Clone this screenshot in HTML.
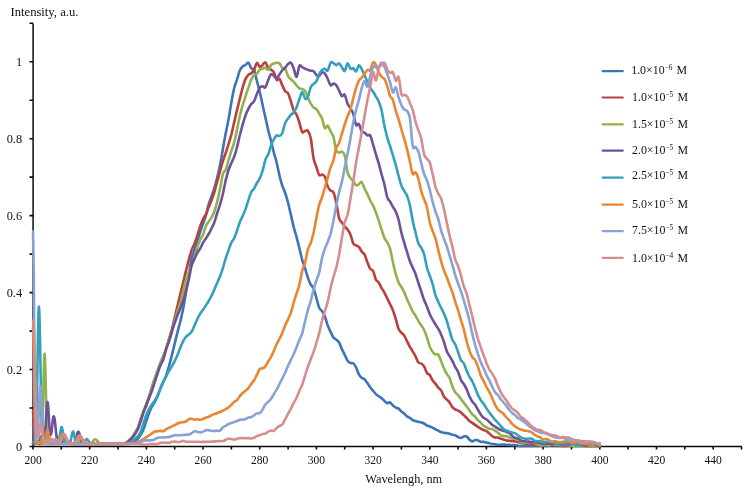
<!DOCTYPE html>
<html lang="en"><head><meta charset="utf-8"><title>Normalized emission spectra</title>
<style>html,body{margin:0;padding:0;background:#fff}body{width:750px;height:490px;overflow:hidden}svg{display:block}</style></head>
<body>
<svg width="750" height="490" viewBox="0 0 750 490">
<rect width="750" height="490" fill="#fff"/>
<g stroke="#0a0a0a" stroke-width="1.5" fill="none">
<path d="M33.1 23.6V447.2"/>
<path d="M32.4 446.5H741.8"/>
</g>
<g stroke="#0a0a0a" stroke-width="1.6" fill="none">
<path d="M29.5 446.5H33.1M29.5 408.0H33.1M29.5 369.5H33.1M29.5 331.1H33.1M29.5 292.6H33.1M29.5 254.1H33.1M29.5 215.6H33.1M29.5 177.1H33.1M29.5 138.7H33.1M29.5 100.2H33.1M29.5 61.7H33.1M29.5 23.2H33.1M33.0 446.5V449.4M61.3 446.5V449.4M89.7 446.5V449.4M118.0 446.5V449.4M146.4 446.5V449.4M174.7 446.5V449.4M203.0 446.5V449.4M231.4 446.5V449.4M259.7 446.5V449.4M288.1 446.5V449.4M316.4 446.5V449.4M344.7 446.5V449.4M373.1 446.5V449.4M401.4 446.5V449.4M429.8 446.5V449.4M458.1 446.5V449.4M486.4 446.5V449.4M514.8 446.5V449.4M543.1 446.5V449.4M571.5 446.5V449.4M599.8 446.5V449.4M628.1 446.5V449.4M656.5 446.5V449.4M684.8 446.5V449.4M713.2 446.5V449.4M741.5 446.5V449.4"/>
</g>
<g fill="none" stroke-width="2.6" stroke-linejoin="round" stroke-linecap="round">
<path stroke="#3d74b8" d="M33.0 423.7C33.1 424.7 33.5 427.3 33.7 429.7C33.9 432.2 34.2 436.2 34.4 438.4C34.7 440.6 34.9 442.2 35.1 442.9C35.4 443.6 35.6 442.7 35.8 442.6C36.1 442.6 36.3 442.5 36.5 442.5C36.8 442.5 37.0 442.6 37.3 442.6C37.5 442.5 37.7 442.2 38.0 442.2C38.2 442.3 38.4 442.6 38.7 442.8C38.9 442.9 39.1 442.9 39.4 443.1C39.6 443.3 39.8 443.9 40.1 443.9C40.3 444.0 40.6 443.7 40.8 443.6C41.0 443.5 41.3 443.3 41.5 443.2C41.7 443.1 42.0 443.0 42.2 442.9C42.4 442.8 42.7 442.5 42.9 442.6C43.2 442.7 43.4 443.5 43.6 443.7C43.9 443.9 44.1 443.7 44.3 443.7C44.6 443.7 44.8 443.4 45.0 443.5C45.3 443.5 45.5 443.9 45.8 444.0C46.0 444.0 46.2 443.8 46.5 443.8C46.7 443.7 46.9 443.8 47.2 443.8C47.4 443.9 47.6 443.9 47.9 443.9C48.1 443.9 48.4 443.9 48.6 443.9C48.8 443.9 49.1 444.0 49.3 444.0C49.5 444.0 49.8 444.0 50.0 443.9C50.2 443.9 50.5 443.9 50.7 443.8C50.9 443.7 51.2 443.6 51.4 443.4C51.7 443.3 51.9 442.9 52.1 442.9C52.4 442.9 52.6 443.3 52.8 443.5C53.1 443.6 53.3 443.9 53.5 443.9C53.8 443.9 54.0 443.7 54.3 443.6C54.5 443.5 54.7 443.4 55.0 443.3C55.2 443.2 55.4 443.0 55.7 443.0C55.9 443.1 56.1 443.5 56.4 443.7C56.6 443.8 56.9 444.0 57.1 444.0C57.3 444.0 57.6 443.8 57.8 443.7C58.0 443.7 58.3 443.7 58.5 443.6C58.7 443.6 59.0 443.4 59.2 443.4C59.5 443.5 59.7 443.9 59.9 443.9C60.2 444.0 60.4 443.7 60.6 443.6C60.9 443.5 61.1 443.4 61.3 443.4C61.6 443.3 61.8 443.3 62.0 443.3C62.3 443.3 62.5 443.4 62.8 443.5C63.0 443.5 63.2 443.5 63.5 443.6C63.7 443.6 63.9 443.8 64.2 443.8C64.4 443.8 64.6 443.5 64.9 443.5C65.1 443.4 65.4 443.3 65.6 443.4C65.8 443.4 66.1 443.5 66.3 443.6C66.5 443.7 66.8 443.9 67.0 443.9C67.2 443.9 67.5 443.5 67.7 443.4C68.0 443.3 68.2 443.2 68.4 443.2C68.7 443.2 68.9 443.3 69.1 443.3C69.4 443.3 69.6 443.4 69.8 443.5C70.1 443.5 70.3 443.6 70.6 443.7C70.8 443.8 71.0 443.9 71.3 443.9C71.5 443.9 71.7 443.9 72.0 443.9C72.2 443.9 72.4 443.9 72.7 443.9C72.9 443.9 73.1 443.9 73.4 443.9C73.6 443.9 73.9 443.8 74.1 443.8C74.3 443.9 74.6 444.0 74.8 444.0C75.0 444.0 75.3 443.9 75.5 443.9C75.7 443.9 76.0 443.9 76.2 443.9C76.5 443.9 76.7 443.9 76.9 443.9C77.2 443.9 77.4 443.8 77.6 443.8C77.9 443.9 78.1 443.9 78.3 443.9C78.6 443.9 78.8 443.9 79.1 443.9C79.3 443.9 79.5 443.9 79.8 443.9C80.0 443.9 80.2 443.8 80.5 443.8C80.7 443.8 80.9 443.9 81.2 443.9C81.4 443.9 81.7 443.9 81.9 444.0C82.1 444.0 82.4 444.0 82.6 444.0C82.8 444.0 83.1 443.9 83.3 443.9C83.5 443.9 83.8 443.9 84.0 443.9C84.2 443.9 84.5 443.9 84.7 443.9C85.0 443.9 85.2 443.9 85.4 443.8C85.7 443.8 85.9 443.7 86.1 443.7C86.4 443.7 86.6 443.7 86.8 443.7C87.1 443.7 87.3 443.6 87.6 443.6C87.8 443.6 88.0 443.7 88.3 443.7C88.5 443.8 88.7 443.8 89.0 443.9C89.2 443.9 89.4 443.9 89.7 444.0C89.9 444.0 90.2 443.9 90.4 443.9C90.6 443.9 90.9 443.9 91.1 443.9C91.3 443.9 91.6 443.9 91.8 443.9C92.0 443.9 92.3 443.8 92.5 443.8C92.8 443.8 93.0 443.8 93.2 443.8C93.5 443.9 93.7 443.9 93.9 443.9C94.2 443.9 94.4 443.9 94.6 443.9C94.9 443.9 95.1 444.0 95.3 444.0C95.6 444.0 95.8 444.0 96.1 444.0C96.3 444.0 96.5 444.0 96.8 444.0C97.0 444.0 97.2 443.9 97.5 443.8C97.7 443.8 97.9 443.8 98.2 443.8C98.4 443.8 98.7 443.8 98.9 443.8C99.1 443.8 99.4 443.9 99.6 443.9C99.8 443.9 100.1 443.9 100.3 443.9C100.5 443.9 100.8 444.0 101.0 444.0C101.3 444.0 101.5 444.0 101.7 444.0C102.0 444.0 102.2 443.9 102.4 443.9C102.7 443.9 102.9 443.9 103.1 443.9C103.4 443.9 103.6 443.9 103.9 443.9C104.1 443.9 104.3 443.9 104.6 443.9C104.8 443.9 105.0 444.0 105.3 444.0C105.5 444.0 105.7 444.0 106.0 444.0C106.2 444.0 106.4 443.9 106.7 443.9C106.9 443.9 107.2 444.0 107.4 444.0C107.6 444.0 107.9 443.9 108.1 443.9C108.3 443.9 108.6 444.0 108.8 444.0C109.0 444.0 109.3 444.0 109.5 444.0C109.8 444.0 110.0 444.0 110.2 444.0C110.5 444.0 110.7 444.0 110.9 444.0C111.2 444.0 111.4 443.9 111.6 443.9C111.9 443.9 112.1 443.9 112.4 443.9C112.6 443.9 112.8 443.9 113.1 443.9C113.3 444.0 113.5 444.0 113.8 444.0C114.0 444.0 114.2 444.0 114.5 444.0C114.7 444.0 114.9 443.9 115.2 443.9C115.4 443.9 115.7 443.9 115.9 443.9C116.1 443.9 116.4 443.9 116.6 443.9C116.8 443.9 117.1 443.9 117.3 443.9C117.5 443.9 117.8 444.0 118.0 444.0C118.3 444.0 118.5 444.0 118.7 444.0C119.0 444.0 119.2 444.0 119.4 444.0C119.7 444.0 119.9 444.0 120.1 444.0C120.4 444.0 120.3 444.0 120.9 444.0C121.4 444.0 122.7 444.0 123.7 444.0C124.6 444.0 125.6 444.0 126.5 444.0C127.5 444.0 128.4 444.1 129.4 444.0C130.3 443.8 131.2 443.5 132.2 443.0C133.1 442.6 134.1 442.1 135.0 441.3C136.0 440.6 136.9 439.8 137.9 438.7C138.8 437.6 139.7 436.5 140.7 434.9C141.6 433.3 142.6 431.5 143.5 429.2C144.5 426.8 145.4 423.5 146.4 420.8C147.3 418.1 148.2 415.1 149.2 412.7C150.1 410.3 151.1 408.2 152.0 406.4C153.0 404.6 153.9 403.7 154.9 401.9C155.8 400.1 156.8 398.0 157.7 395.7C158.6 393.5 159.6 390.7 160.5 388.4C161.5 386.1 162.4 384.0 163.4 381.9C164.3 379.8 165.3 378.2 166.2 375.5C167.1 372.9 168.1 369.5 169.0 366.1C170.0 362.7 170.9 358.9 171.9 355.1C172.8 351.4 173.8 347.4 174.7 343.6C175.6 339.7 176.6 335.8 177.5 332.1C178.5 328.3 179.4 325.1 180.4 321.2C181.3 317.3 182.3 313.4 183.2 308.6C184.1 303.8 185.1 298.1 186.0 292.3C187.0 286.6 187.9 279.5 188.9 273.9C189.8 268.2 190.8 262.3 191.7 258.4C192.6 254.4 193.6 252.9 194.5 249.9C195.5 247.0 196.4 243.7 197.4 240.7C198.3 237.7 199.3 234.8 200.2 232.0C201.2 229.2 202.1 226.5 203.0 223.7C204.0 220.9 204.9 218.7 205.9 215.5C206.8 212.2 207.8 207.2 208.7 204.1C209.7 200.9 210.6 199.2 211.5 196.5C212.5 193.9 213.4 191.2 214.4 188.0C215.3 184.9 216.3 181.4 217.2 177.6C218.2 173.8 219.1 170.1 220.0 165.3C221.0 160.6 221.9 154.4 222.9 149.1C223.8 143.7 224.8 138.2 225.7 133.3C226.7 128.4 227.6 124.7 228.5 119.5C229.5 114.4 230.4 107.6 231.4 102.4C232.3 97.1 233.3 91.8 234.2 88.0C235.2 84.2 236.1 82.5 237.0 79.5C238.0 76.6 238.9 72.4 239.9 70.2C240.8 68.0 241.8 67.3 242.7 66.5C243.7 65.6 244.6 65.6 245.6 65.0C246.5 64.3 247.4 62.0 248.4 62.6C249.3 63.1 250.3 67.1 251.2 68.3C252.2 69.6 253.1 67.9 254.1 70.0C255.0 72.2 255.9 77.4 256.9 81.0C257.8 84.6 258.8 87.5 259.7 91.5C260.7 95.5 261.6 100.6 262.6 104.9C263.5 109.3 264.4 113.3 265.4 117.5C266.3 121.7 267.3 126.3 268.2 130.2C269.2 134.1 270.1 137.1 271.1 140.9C272.0 144.7 272.9 149.2 273.9 152.8C274.8 156.5 275.8 158.9 276.7 162.8C277.7 166.6 278.6 172.1 279.6 176.0C280.5 179.9 281.4 183.1 282.4 186.0C283.3 188.8 284.3 190.1 285.2 193.0C286.2 195.8 287.1 199.4 288.1 203.0C289.0 206.7 289.9 210.7 290.9 214.8C291.8 218.8 292.8 223.4 293.7 227.1C294.7 230.9 295.6 233.7 296.6 237.2C297.5 240.7 298.5 244.5 299.4 248.3C300.3 252.1 301.3 256.7 302.2 260.0C303.2 263.4 304.1 265.5 305.1 268.4C306.0 271.4 307.0 274.9 307.9 277.6C308.8 280.3 309.8 282.9 310.7 284.7C311.7 286.4 312.6 286.0 313.6 288.2C314.5 290.4 315.5 294.7 316.4 298.0C317.3 301.3 318.3 305.6 319.2 307.8C320.2 310.0 321.1 309.7 322.1 311.1C323.0 312.6 324.0 314.1 324.9 316.5C325.8 318.9 326.8 323.0 327.7 325.5C328.7 328.1 329.6 329.8 330.6 331.8C331.5 333.8 332.5 336.1 333.4 337.4C334.3 338.7 335.3 338.8 336.2 339.6C337.2 340.5 338.1 340.9 339.1 342.5C340.0 344.1 341.0 347.1 341.9 349.2C342.9 351.2 343.8 352.9 344.7 354.8C345.7 356.7 346.6 359.3 347.6 360.7C348.5 362.0 349.5 362.6 350.4 363.0C351.4 363.5 352.3 362.5 353.2 363.3C354.2 364.0 355.1 365.7 356.1 367.5C357.0 369.4 358.0 372.7 358.9 374.4C359.9 376.1 360.8 377.0 361.7 377.8C362.7 378.6 363.6 378.4 364.6 379.3C365.5 380.2 366.5 381.8 367.4 383.1C368.4 384.5 369.3 386.0 370.2 387.3C371.2 388.6 372.1 389.7 373.1 390.8C374.0 391.9 375.0 393.2 375.9 394.1C376.9 395.0 377.8 395.5 378.7 396.2C379.7 396.9 380.6 397.4 381.6 398.2C382.5 399.0 383.5 400.0 384.4 400.9C385.4 401.7 386.3 402.9 387.2 403.1C388.2 403.4 389.1 402.1 390.1 402.4C391.0 402.8 392.0 404.6 392.9 405.5C393.9 406.3 394.8 407.1 395.8 407.7C396.7 408.2 397.6 408.0 398.6 408.6C399.5 409.3 400.5 410.7 401.4 411.6C402.4 412.4 403.3 412.8 404.3 413.6C405.2 414.4 406.1 415.7 407.1 416.4C408.0 417.1 409.0 417.3 409.9 417.9C410.9 418.5 411.8 419.6 412.8 420.1C413.7 420.7 414.6 420.8 415.6 421.1C416.5 421.4 417.5 421.7 418.4 421.9C419.4 422.1 420.3 422.1 421.3 422.4C422.2 422.7 423.1 423.0 424.1 423.5C425.0 424.0 426.0 425.0 426.9 425.5C427.9 426.0 428.8 426.1 429.8 426.5C430.7 426.8 431.6 427.2 432.6 427.7C433.5 428.1 434.5 428.8 435.4 429.3C436.4 429.8 437.3 430.1 438.3 430.6C439.2 431.1 440.2 431.8 441.1 432.1C442.0 432.5 443.0 432.5 443.9 432.7C444.9 432.9 445.8 433.0 446.8 433.1C447.7 433.3 448.7 433.4 449.6 433.7C450.5 434.0 451.5 434.6 452.4 434.8C453.4 435.1 454.3 434.9 455.3 435.2C456.2 435.6 457.2 436.6 458.1 437.0C459.0 437.5 460.0 438.1 460.9 438.0C461.9 437.9 462.8 436.7 463.8 436.5C464.7 436.2 465.7 436.0 466.6 436.5C467.5 437.0 468.5 438.7 469.4 439.5C470.4 440.4 471.3 441.3 472.3 441.4C473.2 441.5 474.2 440.3 475.1 440.1C476.0 439.9 477.0 440.0 477.9 440.3C478.9 440.6 479.8 441.5 480.8 441.8C481.7 442.1 482.7 441.8 483.6 441.9C484.6 442.0 485.5 442.2 486.4 442.4C487.4 442.6 488.3 442.9 489.3 443.2C490.2 443.5 491.2 443.9 492.1 444.0C493.1 444.2 494.0 444.1 494.9 444.2C495.9 444.3 496.8 444.6 497.8 444.7C498.7 444.8 499.7 444.7 500.6 444.7C501.6 444.7 502.5 444.5 503.4 444.5C504.4 444.6 505.3 444.7 506.3 444.8C507.2 444.9 508.2 444.8 509.1 444.9C510.1 445.0 511.0 445.3 511.9 445.3C512.9 445.3 513.8 445.0 514.8 445.0C515.7 445.0 516.7 445.2 517.6 445.4C518.6 445.6 519.5 445.9 520.4 446.0C521.4 446.1 522.3 446.0 523.3 446.0C524.2 446.0 525.2 446.0 526.1 446.0C527.1 446.0 528.0 446.0 529.0 446.0C529.9 446.0 530.8 445.9 531.8 445.9C532.7 445.9 533.7 446.0 534.6 446.0C535.6 446.0 536.5 446.0 537.5 446.0C538.4 446.0 539.3 446.0 540.3 446.0C541.2 446.0 542.2 445.7 543.1 445.7C544.1 445.7 545.0 446.0 546.0 446.0C546.9 446.0 547.8 445.9 548.8 445.8C549.7 445.7 550.7 445.4 551.6 445.3C552.6 445.2 553.5 445.3 554.5 445.4C555.4 445.5 556.3 445.9 557.3 446.0C558.2 446.1 559.2 446.0 560.1 446.0C561.1 446.0 562.0 446.0 563.0 445.9C563.9 445.9 564.8 445.9 565.8 445.7C566.7 445.6 567.7 445.0 568.6 445.1C569.6 445.1 570.5 445.8 571.5 446.0C572.4 446.2 573.3 446.0 574.3 446.0C575.2 446.0 576.2 446.0 577.1 446.0C578.1 446.0 579.0 445.9 580.0 445.9C580.9 445.9 581.9 446.0 582.8 446.0C583.7 446.0 584.7 446.0 585.6 446.0C586.6 446.0 587.5 446.0 588.5 446.0C589.4 446.0 590.4 446.0 591.3 446.0C592.2 446.0 593.2 446.0 594.1 446.0C595.1 446.0 596.0 446.0 597.0 446.0C597.9 446.0 599.3 446.0 599.8 446.0"/>
<path stroke="#b9403f" d="M33.0 411.5C33.1 413.1 33.5 417.1 33.7 421.0C33.9 425.0 34.2 432.0 34.4 435.4C34.7 438.8 34.9 440.3 35.1 441.7C35.4 443.1 35.6 443.5 35.8 443.8C36.1 444.2 36.3 443.9 36.5 443.8C36.8 443.8 37.0 443.9 37.3 443.7C37.5 443.5 37.7 443.1 38.0 442.8C38.2 442.5 38.4 442.1 38.7 441.7C38.9 441.4 39.1 441.3 39.4 440.8C39.6 440.4 39.8 439.9 40.1 439.2C40.3 438.5 40.6 437.2 40.8 436.6C41.0 436.1 41.3 436.0 41.5 436.0C41.7 436.0 42.0 436.1 42.2 436.6C42.4 437.1 42.7 438.3 42.9 439.1C43.2 439.8 43.4 440.4 43.6 441.1C43.9 441.7 44.1 442.6 44.3 443.0C44.6 443.3 44.8 443.0 45.0 443.1C45.3 443.3 45.5 443.7 45.8 443.8C46.0 443.9 46.2 443.6 46.5 443.6C46.7 443.6 46.9 443.8 47.2 443.8C47.4 443.8 47.6 443.8 47.9 443.7C48.1 443.7 48.4 443.5 48.6 443.5C48.8 443.4 49.1 443.2 49.3 443.2C49.5 443.2 49.8 443.2 50.0 443.3C50.2 443.3 50.5 443.4 50.7 443.5C50.9 443.5 51.2 443.8 51.4 443.8C51.7 443.7 51.9 443.3 52.1 443.2C52.4 443.1 52.6 443.1 52.8 443.2C53.1 443.3 53.3 443.6 53.5 443.7C53.8 443.7 54.0 443.6 54.3 443.6C54.5 443.5 54.7 443.6 55.0 443.5C55.2 443.4 55.4 443.0 55.7 442.9C55.9 442.9 56.1 443.2 56.4 443.3C56.6 443.4 56.9 443.5 57.1 443.6C57.3 443.7 57.6 443.8 57.8 443.8C58.0 443.9 58.3 443.9 58.5 443.9C58.7 443.8 59.0 443.5 59.2 443.5C59.5 443.5 59.7 443.7 59.9 443.7C60.2 443.7 60.4 443.8 60.6 443.7C60.9 443.7 61.1 443.6 61.3 443.6C61.6 443.6 61.8 443.6 62.0 443.7C62.3 443.7 62.5 443.7 62.8 443.8C63.0 443.8 63.2 443.8 63.5 443.8C63.7 443.9 63.9 443.9 64.2 443.9C64.4 443.9 64.6 444.0 64.9 443.9C65.1 443.9 65.4 443.8 65.6 443.7C65.8 443.6 66.1 443.6 66.3 443.6C66.5 443.6 66.8 443.8 67.0 443.8C67.2 443.8 67.5 443.6 67.7 443.6C68.0 443.5 68.2 443.5 68.4 443.5C68.7 443.5 68.9 443.6 69.1 443.6C69.4 443.6 69.6 443.4 69.8 443.4C70.1 443.4 70.3 443.5 70.6 443.5C70.8 443.5 71.0 443.4 71.3 443.4C71.5 443.4 71.7 443.3 72.0 443.4C72.2 443.4 72.4 443.5 72.7 443.6C72.9 443.7 73.1 443.7 73.4 443.7C73.6 443.8 73.9 443.9 74.1 443.9C74.3 443.9 74.6 443.9 74.8 443.8C75.0 443.8 75.3 443.6 75.5 443.6C75.7 443.6 76.0 443.7 76.2 443.7C76.5 443.8 76.7 443.8 76.9 443.8C77.2 443.9 77.4 443.8 77.6 443.8C77.9 443.8 78.1 443.9 78.3 443.9C78.6 443.9 78.8 443.9 79.1 443.9C79.3 443.9 79.5 443.9 79.8 443.9C80.0 443.9 80.2 443.9 80.5 443.8C80.7 443.8 80.9 443.9 81.2 443.9C81.4 443.9 81.7 443.9 81.9 443.9C82.1 443.9 82.4 443.7 82.6 443.7C82.8 443.7 83.1 443.7 83.3 443.7C83.5 443.7 83.8 443.7 84.0 443.7C84.2 443.8 84.5 443.9 84.7 443.9C85.0 443.9 85.2 443.9 85.4 443.9C85.7 443.9 85.9 444.0 86.1 444.0C86.4 444.0 86.6 443.9 86.8 443.9C87.1 443.9 87.3 443.9 87.6 443.9C87.8 443.9 88.0 444.0 88.3 444.0C88.5 444.0 88.7 443.9 89.0 443.9C89.2 443.9 89.4 443.9 89.7 443.9C89.9 443.9 90.2 443.9 90.4 443.9C90.6 443.9 90.9 443.9 91.1 443.9C91.3 443.9 91.6 444.0 91.8 444.0C92.0 444.0 92.3 443.8 92.5 443.8C92.8 443.8 93.0 443.9 93.2 443.9C93.5 443.9 93.7 443.9 93.9 443.9C94.2 443.9 94.4 443.9 94.6 443.9C94.9 443.9 95.1 443.9 95.3 444.0C95.6 444.0 95.8 444.0 96.1 444.0C96.3 444.0 96.5 443.9 96.8 443.9C97.0 443.9 97.2 444.0 97.5 444.0C97.7 444.0 97.9 444.0 98.2 444.0C98.4 444.0 98.7 444.0 98.9 444.0C99.1 444.0 99.4 443.9 99.6 443.9C99.8 443.9 100.1 443.9 100.3 443.9C100.5 443.9 100.8 443.9 101.0 443.9C101.3 443.8 101.5 443.9 101.7 443.9C102.0 443.9 102.2 443.9 102.4 443.9C102.7 443.9 102.9 443.9 103.1 444.0C103.4 444.0 103.6 443.9 103.9 443.9C104.1 443.9 104.3 443.9 104.6 443.9C104.8 444.0 105.0 444.0 105.3 444.0C105.5 444.0 105.7 443.9 106.0 443.9C106.2 443.9 106.4 443.9 106.7 443.9C106.9 443.9 107.2 443.9 107.4 443.9C107.6 443.9 107.9 444.0 108.1 444.0C108.3 444.0 108.6 444.0 108.8 444.0C109.0 444.0 109.3 444.0 109.5 444.0C109.8 444.0 110.0 444.0 110.2 444.0C110.5 444.0 110.7 444.0 110.9 444.0C111.2 444.0 111.4 444.0 111.6 444.0C111.9 443.9 112.1 443.9 112.4 443.9C112.6 443.9 112.8 443.9 113.1 443.8C113.3 443.8 113.5 443.9 113.8 443.9C114.0 443.9 114.2 443.9 114.5 443.9C114.7 443.9 114.9 444.0 115.2 444.0C115.4 444.0 115.7 444.0 115.9 444.0C116.1 444.0 116.4 443.9 116.6 443.9C116.8 443.9 117.1 443.9 117.3 444.0C117.5 444.0 117.8 443.9 118.0 443.9C118.3 443.9 118.5 443.9 118.7 443.9C119.0 443.9 119.2 444.0 119.4 444.0C119.7 444.0 119.9 444.0 120.1 444.0C120.4 444.0 120.3 444.0 120.9 444.0C121.4 444.0 122.7 444.2 123.7 443.9C124.6 443.7 125.6 443.1 126.5 442.5C127.5 441.8 128.4 440.9 129.4 440.0C130.3 439.2 131.2 438.5 132.2 437.4C133.1 436.3 134.1 434.9 135.0 433.4C136.0 431.9 136.9 430.5 137.9 428.3C138.8 426.0 139.7 422.7 140.7 419.9C141.6 417.1 142.6 414.2 143.5 411.5C144.5 408.8 145.4 406.4 146.4 403.9C147.3 401.4 148.2 399.2 149.2 396.5C150.1 393.7 151.1 390.4 152.0 387.4C153.0 384.4 153.9 381.3 154.9 378.6C155.8 375.9 156.8 373.4 157.7 371.1C158.6 368.8 159.6 367.0 160.5 364.7C161.5 362.4 162.4 359.8 163.4 357.2C164.3 354.5 165.3 351.9 166.2 348.9C167.1 345.9 168.1 342.4 169.0 339.2C170.0 335.9 170.9 333.1 171.9 329.5C172.8 325.9 173.8 321.5 174.7 317.5C175.6 313.6 176.6 309.7 177.5 305.8C178.5 301.8 179.4 297.7 180.4 293.7C181.3 289.8 182.3 286.1 183.2 282.2C184.1 278.4 185.1 274.5 186.0 270.6C187.0 266.8 187.9 262.9 188.9 259.4C189.8 256.0 190.8 252.5 191.7 249.9C192.6 247.2 193.6 246.0 194.5 243.6C195.5 241.2 196.4 238.3 197.4 235.4C198.3 232.4 199.3 228.8 200.2 226.1C201.2 223.4 202.1 221.1 203.0 219.2C204.0 217.2 204.9 216.3 205.9 214.3C206.8 212.3 207.8 209.3 208.7 207.0C209.7 204.7 210.6 202.9 211.5 200.4C212.5 197.9 213.4 195.1 214.4 192.0C215.3 189.0 216.3 185.3 217.2 181.8C218.2 178.4 219.1 174.6 220.0 171.2C221.0 167.7 221.9 164.2 222.9 161.1C223.8 158.1 224.8 155.8 225.7 153.0C226.7 150.2 227.6 147.2 228.5 144.1C229.5 141.0 230.4 138.1 231.4 134.4C232.3 130.7 233.3 126.1 234.2 122.1C235.2 118.0 236.1 114.1 237.0 110.1C238.0 106.2 238.9 102.2 239.9 98.4C240.8 94.6 241.8 90.5 242.7 87.3C243.7 84.0 244.6 81.0 245.6 78.9C246.5 76.9 247.4 75.9 248.4 74.9C249.3 74.0 250.3 74.0 251.2 73.2C252.2 72.4 253.1 71.7 254.1 70.0C255.0 68.3 255.9 63.5 256.9 63.0C257.8 62.5 258.8 66.7 259.7 67.0C260.7 67.3 261.6 65.7 262.6 64.9C263.5 64.1 264.4 61.8 265.4 62.3C266.3 62.8 267.3 66.6 268.2 67.8C269.2 69.0 270.1 68.9 271.1 69.7C272.0 70.4 272.9 70.7 273.9 72.4C274.8 74.1 275.8 78.9 276.7 80.0C277.7 81.1 278.6 77.9 279.6 78.8C280.5 79.7 281.4 83.5 282.4 85.6C283.3 87.6 284.3 89.9 285.2 91.2C286.2 92.5 287.1 91.7 288.1 93.4C289.0 95.1 289.9 98.4 290.9 101.3C291.8 104.2 292.8 108.5 293.7 110.7C294.7 113.0 295.6 112.8 296.6 114.8C297.5 116.8 298.5 119.8 299.4 122.7C300.3 125.6 301.3 130.7 302.2 132.1C303.2 133.5 304.1 131.1 305.1 130.9C306.0 130.7 307.0 129.7 307.9 130.9C308.8 132.1 309.8 133.5 310.7 138.1C311.7 142.7 312.6 153.7 313.6 158.5C314.5 163.3 315.5 164.2 316.4 167.0C317.3 169.7 318.3 173.7 319.2 175.0C320.2 176.3 321.1 174.4 322.1 174.6C323.0 174.9 324.0 174.8 324.9 176.7C325.8 178.7 326.8 184.1 327.7 186.4C328.7 188.8 329.6 189.7 330.6 190.7C331.5 191.6 332.5 190.3 333.4 192.3C334.3 194.2 335.3 198.2 336.2 202.5C337.2 206.9 338.1 214.8 339.1 218.2C340.0 221.5 341.0 221.2 341.9 222.6C342.9 224.0 343.8 225.4 344.7 226.6C345.7 227.7 346.6 228.3 347.6 229.6C348.5 230.9 349.5 232.2 350.4 234.5C351.4 236.8 352.3 241.5 353.2 243.3C354.2 245.1 355.1 244.7 356.1 245.3C357.0 246.0 358.0 246.0 358.9 247.0C359.9 248.0 360.8 250.3 361.7 251.6C362.7 252.9 363.6 252.9 364.6 254.7C365.5 256.5 366.5 260.0 367.4 262.3C368.4 264.6 369.3 267.2 370.2 268.7C371.2 270.1 372.1 269.1 373.1 271.0C374.0 272.8 375.0 277.7 375.9 279.6C376.9 281.5 377.8 281.0 378.7 282.5C379.7 283.9 380.6 286.4 381.6 288.1C382.5 289.8 383.5 290.9 384.4 292.6C385.4 294.3 386.3 296.4 387.2 298.3C388.2 300.3 389.1 302.4 390.1 304.3C391.0 306.3 392.0 307.7 392.9 310.2C393.9 312.6 394.8 315.9 395.8 319.0C396.7 322.1 397.6 326.6 398.6 328.9C399.5 331.2 400.5 331.5 401.4 332.7C402.4 333.8 403.3 334.3 404.3 335.7C405.2 337.2 406.1 339.6 407.1 341.4C408.0 343.3 409.0 345.2 409.9 346.9C410.9 348.6 411.8 350.0 412.8 351.6C413.7 353.2 414.6 354.7 415.6 356.5C416.5 358.3 417.5 361.4 418.4 362.5C419.4 363.7 420.3 362.8 421.3 363.5C422.2 364.1 423.1 365.0 424.1 366.5C425.0 368.1 426.0 371.4 426.9 372.9C427.9 374.3 428.8 373.8 429.8 375.1C430.7 376.4 431.6 379.0 432.6 380.4C433.5 381.9 434.5 382.5 435.4 383.7C436.4 384.9 437.3 386.5 438.3 387.6C439.2 388.8 440.2 388.9 441.1 390.4C442.0 391.8 443.0 394.9 443.9 396.5C444.9 398.0 445.8 398.5 446.8 399.5C447.7 400.5 448.7 401.1 449.6 402.4C450.5 403.7 451.5 406.0 452.4 407.1C453.4 408.3 454.3 408.8 455.3 409.4C456.2 410.0 457.2 410.2 458.1 410.7C459.0 411.2 460.0 411.7 460.9 412.4C461.9 413.2 462.8 414.3 463.8 415.2C464.7 416.1 465.7 417.0 466.6 417.9C467.5 418.9 468.5 420.1 469.4 421.0C470.4 421.8 471.3 422.3 472.3 422.9C473.2 423.6 474.2 424.2 475.1 424.8C476.0 425.5 477.0 426.3 477.9 426.9C478.9 427.5 479.8 428.1 480.8 428.6C481.7 429.1 482.7 429.5 483.6 430.0C484.6 430.4 485.5 430.6 486.4 431.1C487.4 431.7 488.3 432.7 489.3 433.5C490.2 434.3 491.2 435.3 492.1 436.0C493.1 436.6 494.0 437.2 494.9 437.5C495.9 437.8 496.8 437.4 497.8 437.6C498.7 437.8 499.7 438.3 500.6 438.6C501.6 438.9 502.5 439.1 503.4 439.4C504.4 439.7 505.3 440.2 506.3 440.4C507.2 440.6 508.2 440.6 509.1 440.7C510.1 440.9 511.0 441.0 511.9 441.1C512.9 441.3 513.8 441.3 514.8 441.4C515.7 441.6 516.7 441.7 517.6 442.0C518.6 442.2 519.5 442.5 520.4 442.8C521.4 443.0 522.3 443.3 523.3 443.5C524.2 443.7 525.2 443.8 526.1 443.8C527.1 443.8 528.0 443.4 529.0 443.5C529.9 443.6 530.8 444.2 531.8 444.3C532.7 444.5 533.7 444.4 534.6 444.6C535.6 444.8 536.5 445.5 537.5 445.6C538.4 445.7 539.3 445.3 540.3 445.3C541.2 445.3 542.2 445.5 543.1 445.4C544.1 445.2 545.0 444.7 546.0 444.6C546.9 444.6 547.8 445.0 548.8 445.0C549.7 445.1 550.7 444.8 551.6 444.8C552.6 444.8 553.5 444.8 554.5 444.9C555.4 445.0 556.3 445.2 557.3 445.3C558.2 445.4 559.2 445.3 560.1 445.4C561.1 445.5 562.0 445.7 563.0 445.8C563.9 445.9 564.8 446.0 565.8 446.0C566.7 446.0 567.7 446.1 568.6 446.0C569.6 445.9 570.5 445.7 571.5 445.5C572.4 445.3 573.3 444.9 574.3 444.8C575.2 444.7 576.2 445.0 577.1 445.0C578.1 445.1 579.0 445.2 580.0 445.2C580.9 445.1 581.9 444.6 582.8 444.8C583.7 444.9 584.7 445.7 585.6 445.9C586.6 446.1 587.5 445.9 588.5 445.9C589.4 445.9 590.4 446.0 591.3 446.0C592.2 446.0 593.2 446.0 594.1 446.0C595.1 446.0 596.0 446.0 597.0 446.0C597.9 446.0 599.3 446.0 599.8 446.0"/>
<path stroke="#8fb24c" d="M33.0 443.8C33.1 443.8 33.5 443.7 33.7 443.7C33.9 443.7 34.2 444.0 34.4 443.8C34.7 443.7 34.9 443.1 35.1 443.0C35.4 442.9 35.6 443.3 35.8 443.3C36.1 443.2 36.3 442.9 36.5 442.8C36.8 442.6 37.0 442.5 37.3 442.4C37.5 442.4 37.7 442.4 38.0 442.4C38.2 442.4 38.4 442.5 38.7 442.4C38.9 442.4 39.1 442.3 39.4 442.3C39.6 442.2 39.8 442.2 40.1 442.3C40.3 442.4 40.6 443.2 40.8 442.8C41.0 442.4 41.3 441.6 41.5 439.9C41.7 438.1 42.0 437.1 42.2 432.3C42.4 427.5 42.7 419.8 42.9 411.0C43.2 402.2 43.4 388.8 43.6 379.6C43.9 370.4 44.1 359.2 44.3 355.7C44.6 352.2 44.8 353.5 45.0 358.6C45.3 363.6 45.5 376.6 45.8 386.2C46.0 395.8 46.2 408.2 46.5 416.2C46.7 424.3 46.9 430.3 47.2 434.6C47.4 438.9 47.6 440.4 47.9 441.9C48.1 443.4 48.4 443.3 48.6 443.5C48.8 443.8 49.1 443.4 49.3 443.5C49.5 443.5 49.8 443.9 50.0 443.9C50.2 444.0 50.5 444.0 50.7 444.0C50.9 443.9 51.2 443.6 51.4 443.6C51.7 443.6 51.9 443.9 52.1 443.9C52.4 444.0 52.6 443.9 52.8 443.8C53.1 443.7 53.3 443.4 53.5 443.3C53.8 443.2 54.0 443.1 54.3 443.1C54.5 443.1 54.7 443.0 55.0 443.1C55.2 443.1 55.4 443.4 55.7 443.4C55.9 443.4 56.1 443.3 56.4 443.1C56.6 442.9 56.9 442.4 57.1 442.0C57.3 441.5 57.6 440.9 57.8 440.3C58.0 439.7 58.3 439.1 58.5 438.5C58.7 438.0 59.0 437.3 59.2 436.9C59.5 436.4 59.7 436.0 59.9 436.0C60.2 436.0 60.4 436.4 60.6 436.8C60.9 437.2 61.1 437.9 61.3 438.5C61.6 439.1 61.8 439.9 62.0 440.5C62.3 441.0 62.5 441.4 62.8 441.8C63.0 442.2 63.2 442.5 63.5 442.8C63.7 443.1 63.9 443.5 64.2 443.6C64.4 443.8 64.6 443.6 64.9 443.7C65.1 443.7 65.4 443.8 65.6 443.8C65.8 443.8 66.1 443.5 66.3 443.5C66.5 443.4 66.8 443.4 67.0 443.5C67.2 443.5 67.5 443.7 67.7 443.8C68.0 443.9 68.2 444.0 68.4 444.0C68.7 444.0 68.9 443.8 69.1 443.8C69.4 443.8 69.6 443.8 69.8 443.8C70.1 443.8 70.3 443.7 70.6 443.8C70.8 443.8 71.0 444.0 71.3 444.0C71.5 444.0 71.7 443.8 72.0 443.7C72.2 443.7 72.4 443.9 72.7 443.9C72.9 443.9 73.1 443.9 73.4 443.9C73.6 443.9 73.9 443.9 74.1 443.9C74.3 443.9 74.6 444.0 74.8 444.0C75.0 444.0 75.3 443.9 75.5 443.8C75.7 443.8 76.0 443.8 76.2 443.8C76.5 443.8 76.7 443.8 76.9 443.8C77.2 443.9 77.4 443.9 77.6 444.0C77.9 444.0 78.1 444.0 78.3 443.9C78.6 443.9 78.8 443.8 79.1 443.8C79.3 443.8 79.5 443.9 79.8 443.9C80.0 443.9 80.2 443.9 80.5 443.9C80.7 443.8 80.9 443.8 81.2 443.8C81.4 443.8 81.7 443.9 81.9 443.9C82.1 444.0 82.4 444.0 82.6 443.9C82.8 443.9 83.1 443.8 83.3 443.8C83.5 443.8 83.8 443.8 84.0 443.8C84.2 443.8 84.5 443.7 84.7 443.7C85.0 443.8 85.2 443.9 85.4 443.9C85.7 444.0 85.9 444.0 86.1 444.0C86.4 444.0 86.6 443.9 86.8 443.9C87.1 443.9 87.3 443.9 87.6 443.9C87.8 443.9 88.0 443.9 88.3 443.9C88.5 443.9 88.7 443.9 89.0 443.8C89.2 443.8 89.4 443.7 89.7 443.6C89.9 443.5 90.2 443.5 90.4 443.5C90.6 443.4 90.9 443.3 91.1 443.1C91.3 443.0 91.6 442.8 91.8 442.6C92.0 442.3 92.3 442.1 92.5 441.8C92.8 441.6 93.0 441.2 93.2 440.9C93.5 440.6 93.7 440.3 93.9 440.0C94.2 439.8 94.4 439.6 94.6 439.5C94.9 439.4 95.1 439.3 95.3 439.3C95.6 439.3 95.8 439.4 96.1 439.6C96.3 439.7 96.5 439.9 96.8 440.1C97.0 440.4 97.2 440.7 97.5 441.0C97.7 441.2 97.9 441.6 98.2 441.8C98.4 442.1 98.7 442.4 98.9 442.6C99.1 442.8 99.4 443.0 99.6 443.1C99.8 443.3 100.1 443.4 100.3 443.5C100.5 443.6 100.8 443.7 101.0 443.8C101.3 443.8 101.5 443.8 101.7 443.8C102.0 443.8 102.2 443.8 102.4 443.8C102.7 443.9 102.9 443.9 103.1 443.9C103.4 443.9 103.6 443.9 103.9 443.8C104.1 443.8 104.3 443.8 104.6 443.8C104.8 443.9 105.0 443.9 105.3 444.0C105.5 444.0 105.7 444.0 106.0 444.0C106.2 444.0 106.4 444.0 106.7 444.0C106.9 444.0 107.2 444.0 107.4 444.0C107.6 444.0 107.9 444.0 108.1 444.0C108.3 444.0 108.6 444.0 108.8 444.0C109.0 444.0 109.3 444.0 109.5 444.0C109.8 444.0 110.0 444.0 110.2 444.0C110.5 444.0 110.7 444.0 110.9 444.0C111.2 444.0 111.4 444.0 111.6 444.0C111.9 444.0 112.1 443.9 112.4 443.9C112.6 443.9 112.8 443.9 113.1 443.9C113.3 443.9 113.5 443.9 113.8 443.9C114.0 443.9 114.2 443.9 114.5 443.9C114.7 443.9 114.9 443.9 115.2 444.0C115.4 444.0 115.7 444.0 115.9 444.0C116.1 444.0 116.4 444.0 116.6 444.0C116.8 444.0 117.1 443.9 117.3 443.9C117.5 443.9 117.8 443.9 118.0 443.9C118.3 443.9 118.5 443.9 118.7 443.9C119.0 443.9 119.2 443.9 119.4 443.9C119.7 443.9 119.9 443.9 120.1 443.9C120.4 443.9 120.3 444.0 120.9 444.0C121.4 444.0 122.7 444.2 123.7 443.9C124.6 443.6 125.6 443.0 126.5 442.3C127.5 441.6 128.4 440.8 129.4 439.9C130.3 439.0 131.2 438.0 132.2 436.8C133.1 435.5 134.1 434.1 135.0 432.5C136.0 430.9 136.9 429.5 137.9 427.2C138.8 424.9 139.7 421.5 140.7 418.7C141.6 416.0 142.6 412.9 143.5 410.7C144.5 408.6 145.4 408.3 146.4 405.9C147.3 403.5 148.2 399.5 149.2 396.2C150.1 393.0 151.1 389.4 152.0 386.4C153.0 383.4 153.9 380.9 154.9 378.2C155.8 375.5 156.8 372.7 157.7 370.1C158.6 367.4 159.6 364.7 160.5 362.3C161.5 359.9 162.4 357.9 163.4 355.6C164.3 353.3 165.3 351.1 166.2 348.5C167.1 345.8 168.1 342.6 169.0 339.8C170.0 337.0 170.9 334.8 171.9 331.7C172.8 328.5 173.8 324.3 174.7 320.8C175.6 317.4 176.6 314.0 177.5 311.0C178.5 308.0 179.4 306.0 180.4 302.9C181.3 299.7 182.3 295.8 183.2 292.1C184.1 288.4 185.1 284.1 186.0 280.7C187.0 277.4 187.9 274.6 188.9 272.0C189.8 269.4 190.8 267.5 191.7 265.3C192.6 263.0 193.6 261.3 194.5 258.3C195.5 255.2 196.4 250.0 197.4 246.9C198.3 243.8 199.3 241.6 200.2 239.5C201.2 237.5 202.1 237.1 203.0 234.8C204.0 232.5 204.9 228.2 205.9 226.0C206.8 223.8 207.8 222.9 208.7 221.5C209.7 220.0 210.6 219.2 211.5 217.5C212.5 215.8 213.4 214.1 214.4 211.5C215.3 208.8 216.3 205.4 217.2 201.6C218.2 197.9 219.1 193.7 220.0 189.1C221.0 184.5 221.9 177.2 222.9 174.0C223.8 170.8 224.8 172.0 225.7 169.7C226.7 167.4 227.6 163.4 228.5 160.2C229.5 157.1 230.4 153.7 231.4 150.7C232.3 147.8 233.3 145.9 234.2 142.4C235.2 138.9 236.1 134.2 237.0 129.7C238.0 125.2 238.9 119.6 239.9 115.5C240.8 111.4 241.8 108.5 242.7 105.2C243.7 102.0 244.6 99.1 245.6 96.2C246.5 93.2 247.4 90.5 248.4 87.8C249.3 85.0 250.3 81.9 251.2 79.8C252.2 77.6 253.1 75.9 254.1 74.9C255.0 73.9 255.9 74.7 256.9 73.8C257.8 72.9 258.8 70.5 259.7 69.7C260.7 68.8 261.6 69.1 262.6 68.7C263.5 68.3 264.4 67.3 265.4 67.5C266.3 67.7 267.3 70.3 268.2 69.9C269.2 69.5 270.1 66.0 271.1 65.0C272.0 63.9 272.9 64.0 273.9 63.6C274.8 63.3 275.8 62.7 276.7 62.7C277.7 62.6 278.6 62.6 279.6 63.5C280.5 64.4 281.4 67.3 282.4 68.1C283.3 69.0 284.3 67.3 285.2 68.7C286.2 70.0 287.1 74.4 288.1 76.2C289.0 78.0 289.9 78.4 290.9 79.3C291.8 80.3 292.8 80.8 293.7 81.8C294.7 82.8 295.6 84.3 296.6 85.4C297.5 86.4 298.5 87.8 299.4 88.4C300.3 89.0 301.3 88.6 302.2 89.0C303.2 89.4 304.1 89.5 305.1 90.9C306.0 92.4 307.0 95.8 307.9 97.8C308.8 99.9 309.8 101.7 310.7 103.4C311.7 105.0 312.6 106.6 313.6 107.5C314.5 108.5 315.5 108.0 316.4 109.1C317.3 110.1 318.3 112.0 319.2 113.6C320.2 115.2 321.1 116.2 322.1 118.7C323.0 121.1 324.0 127.0 324.9 128.1C325.8 129.3 326.8 125.0 327.7 125.6C328.7 126.1 329.6 129.6 330.6 131.5C331.5 133.3 332.5 133.8 333.4 136.9C334.3 140.1 335.3 147.7 336.2 150.3C337.2 152.9 338.1 152.3 339.1 152.5C340.0 152.7 341.0 151.2 341.9 151.7C342.9 152.2 343.8 151.8 344.7 155.3C345.7 158.8 346.6 168.7 347.6 172.5C348.5 176.2 349.5 176.4 350.4 177.9C351.4 179.4 352.3 180.0 353.2 181.2C354.2 182.4 355.1 184.8 356.1 185.3C357.0 185.7 358.0 184.7 358.9 184.2C359.9 183.6 360.8 181.2 361.7 182.0C362.7 182.7 363.6 186.7 364.6 188.7C365.5 190.7 366.5 192.1 367.4 194.1C368.4 196.0 369.3 198.6 370.2 200.5C371.2 202.4 372.1 203.6 373.1 205.6C374.0 207.6 375.0 209.9 375.9 212.4C376.9 214.9 377.8 217.8 378.7 220.6C379.7 223.5 380.6 226.8 381.6 229.7C382.5 232.6 383.5 235.9 384.4 238.0C385.4 240.2 386.3 240.7 387.2 242.5C388.2 244.3 389.1 245.5 390.1 248.8C391.0 252.0 392.0 257.9 392.9 262.1C393.9 266.4 394.8 270.8 395.8 274.2C396.7 277.6 397.6 280.3 398.6 282.4C399.5 284.5 400.5 285.3 401.4 287.0C402.4 288.7 403.3 290.3 404.3 292.4C405.2 294.4 406.1 297.2 407.1 299.3C408.0 301.5 409.0 303.4 409.9 305.5C410.9 307.5 411.8 310.0 412.8 311.7C413.7 313.4 414.6 314.3 415.6 315.8C416.5 317.3 417.5 319.4 418.4 321.0C419.4 322.6 420.3 323.8 421.3 325.3C422.2 326.8 423.1 328.1 424.1 330.0C425.0 332.0 426.0 334.3 426.9 337.1C427.9 339.9 428.8 344.2 429.8 346.6C430.7 349.0 431.6 350.4 432.6 351.7C433.5 353.0 434.5 354.0 435.4 354.5C436.4 354.9 437.3 353.4 438.3 354.6C439.2 355.7 440.2 358.9 441.1 361.2C442.0 363.5 443.0 366.0 443.9 368.2C444.9 370.3 445.8 372.4 446.8 374.0C447.7 375.7 448.7 375.9 449.6 378.0C450.5 380.1 451.5 384.2 452.4 386.6C453.4 389.0 454.3 391.0 455.3 392.4C456.2 393.8 457.2 394.0 458.1 395.1C459.0 396.2 460.0 397.7 460.9 399.0C461.9 400.3 462.8 401.5 463.8 402.8C464.7 404.0 465.7 405.2 466.6 406.4C467.5 407.7 468.5 409.0 469.4 410.3C470.4 411.6 471.3 413.3 472.3 414.4C473.2 415.5 474.2 415.8 475.1 416.7C476.0 417.7 477.0 419.1 477.9 420.1C478.9 421.1 479.8 421.9 480.8 422.8C481.7 423.8 482.7 425.0 483.6 425.7C484.6 426.5 485.5 426.8 486.4 427.3C487.4 427.9 488.3 428.5 489.3 428.8C490.2 429.1 491.2 428.8 492.1 429.1C493.1 429.4 494.0 430.1 494.9 430.7C495.9 431.2 496.8 431.8 497.8 432.5C498.7 433.3 499.7 434.6 500.6 435.2C501.6 435.8 502.5 435.9 503.4 436.1C504.4 436.2 505.3 436.1 506.3 436.2C507.2 436.4 508.2 436.8 509.1 437.2C510.1 437.5 511.0 438.2 511.9 438.4C512.9 438.7 513.8 438.6 514.8 438.7C515.7 438.9 516.7 439.0 517.6 439.4C518.6 439.9 519.5 440.8 520.4 441.5C521.4 442.1 522.3 443.0 523.3 443.1C524.2 443.3 525.2 442.6 526.1 442.4C527.1 442.3 528.0 442.2 529.0 442.2C529.9 442.2 530.8 442.2 531.8 442.3C532.7 442.4 533.7 442.6 534.6 443.0C535.6 443.3 536.5 444.2 537.5 444.5C538.4 444.9 539.3 445.1 540.3 445.1C541.2 445.2 542.2 444.9 543.1 444.9C544.1 444.9 545.0 445.0 546.0 445.0C546.9 445.0 547.8 445.1 548.8 445.1C549.7 445.1 550.7 445.0 551.6 444.8C552.6 444.7 553.5 444.2 554.5 444.2C555.4 444.2 556.3 444.5 557.3 444.7C558.2 444.9 559.2 445.1 560.1 445.2C561.1 445.2 562.0 445.0 563.0 444.9C563.9 444.9 564.8 444.9 565.8 444.9C566.7 445.0 567.7 444.9 568.6 445.0C569.6 445.1 570.5 445.3 571.5 445.5C572.4 445.7 573.3 446.0 574.3 446.0C575.2 446.0 576.2 445.7 577.1 445.7C578.1 445.7 579.0 445.8 580.0 445.8C580.9 445.9 581.9 446.0 582.8 446.0C583.7 446.0 584.7 446.0 585.6 446.0C586.6 446.0 587.5 446.1 588.5 446.0C589.4 445.9 590.4 445.3 591.3 445.3C592.2 445.3 593.2 445.9 594.1 446.0C595.1 446.1 596.0 445.9 597.0 445.9C597.9 445.9 599.3 446.0 599.8 446.0"/>
<path stroke="#6f5199" d="M33.0 443.8C33.1 443.8 33.5 443.8 33.7 443.8C33.9 443.8 34.2 443.7 34.4 443.8C34.7 443.8 34.9 444.1 35.1 444.0C35.4 443.9 35.6 443.5 35.8 443.3C36.1 443.2 36.3 443.2 36.5 443.2C36.8 443.2 37.0 443.3 37.3 443.3C37.5 443.4 37.7 443.6 38.0 443.5C38.2 443.5 38.4 443.1 38.7 443.2C38.9 443.2 39.1 443.7 39.4 443.8C39.6 444.0 39.8 444.0 40.1 443.9C40.3 443.9 40.6 443.8 40.8 443.7C41.0 443.6 41.3 443.2 41.5 443.2C41.7 443.3 42.0 443.9 42.2 443.9C42.4 443.9 42.7 443.3 42.9 443.0C43.2 442.7 43.4 442.6 43.6 442.0C43.9 441.4 44.1 440.9 44.3 439.4C44.6 438.0 44.8 436.3 45.0 433.5C45.3 430.6 45.5 426.1 45.8 422.3C46.0 418.5 46.2 413.9 46.5 410.6C46.7 407.4 46.9 403.8 47.2 402.7C47.4 401.5 47.6 402.1 47.9 403.8C48.1 405.5 48.4 409.3 48.6 412.9C48.8 416.5 49.1 421.8 49.3 425.2C49.5 428.5 49.8 431.4 50.0 433.1C50.2 434.7 50.5 435.0 50.7 434.9C50.9 434.8 51.2 433.9 51.4 432.6C51.7 431.2 51.9 428.7 52.1 426.7C52.4 424.6 52.6 421.8 52.8 420.1C53.1 418.4 53.3 417.0 53.5 416.5C53.8 416.1 54.0 416.5 54.3 417.4C54.5 418.3 54.7 419.9 55.0 421.8C55.2 423.7 55.4 426.4 55.7 428.6C55.9 430.8 56.1 433.2 56.4 435.0C56.6 436.8 56.9 438.4 57.1 439.6C57.3 440.7 57.6 441.2 57.8 441.8C58.0 442.5 58.3 442.9 58.5 443.3C58.7 443.6 59.0 443.7 59.2 443.8C59.5 443.9 59.7 443.8 59.9 443.8C60.2 443.8 60.4 443.9 60.6 443.8C60.9 443.8 61.1 443.6 61.3 443.5C61.6 443.4 61.8 443.5 62.0 443.3C62.3 443.1 62.5 442.7 62.8 442.3C63.0 441.9 63.2 441.4 63.5 441.0C63.7 440.6 63.9 440.1 64.2 439.6C64.4 439.2 64.6 438.6 64.9 438.3C65.1 437.9 65.4 437.5 65.6 437.6C65.8 437.7 66.1 438.3 66.3 438.7C66.5 439.0 66.8 439.3 67.0 439.7C67.2 440.0 67.5 440.5 67.7 440.9C68.0 441.3 68.2 441.7 68.4 442.0C68.7 442.4 68.9 442.6 69.1 442.9C69.4 443.2 69.6 443.5 69.8 443.7C70.1 443.8 70.3 443.9 70.6 443.9C70.8 443.9 71.0 443.8 71.3 443.7C71.5 443.7 71.7 443.6 72.0 443.7C72.2 443.7 72.4 443.9 72.7 443.9C72.9 443.9 73.1 443.7 73.4 443.6C73.6 443.5 73.9 443.5 74.1 443.3C74.3 443.1 74.6 442.8 74.8 442.3C75.0 441.9 75.3 441.4 75.5 440.7C75.7 440.0 76.0 438.9 76.2 438.0C76.5 437.1 76.7 436.0 76.9 435.1C77.2 434.2 77.4 433.2 77.6 432.6C77.9 432.0 78.1 431.6 78.3 431.6C78.6 431.6 78.8 432.0 79.1 432.6C79.3 433.2 79.5 434.3 79.8 435.3C80.0 436.2 80.2 437.3 80.5 438.2C80.7 439.1 80.9 440.1 81.2 440.7C81.4 441.4 81.7 441.9 81.9 442.3C82.1 442.8 82.4 443.0 82.6 443.2C82.8 443.4 83.1 443.5 83.3 443.6C83.5 443.7 83.8 443.9 84.0 443.9C84.2 444.0 84.5 443.9 84.7 443.9C85.0 443.9 85.2 444.0 85.4 444.0C85.7 444.0 85.9 443.9 86.1 443.9C86.4 443.9 86.6 444.0 86.8 443.9C87.1 443.9 87.3 443.8 87.6 443.7C87.8 443.7 88.0 443.8 88.3 443.8C88.5 443.8 88.7 443.7 89.0 443.7C89.2 443.7 89.4 443.8 89.7 443.9C89.9 443.9 90.2 443.9 90.4 443.9C90.6 443.9 90.9 443.9 91.1 443.9C91.3 443.9 91.6 443.8 91.8 443.8C92.0 443.8 92.3 443.7 92.5 443.7C92.8 443.7 93.0 443.8 93.2 443.9C93.5 443.9 93.7 443.9 93.9 443.9C94.2 443.9 94.4 444.0 94.6 444.0C94.9 444.0 95.1 444.0 95.3 444.0C95.6 444.0 95.8 444.0 96.1 444.0C96.3 443.9 96.5 443.9 96.8 443.9C97.0 443.8 97.2 443.9 97.5 443.9C97.7 443.9 97.9 443.9 98.2 443.9C98.4 443.9 98.7 444.0 98.9 444.0C99.1 444.0 99.4 444.0 99.6 444.0C99.8 443.9 100.1 443.9 100.3 443.9C100.5 443.9 100.8 444.0 101.0 444.0C101.3 444.0 101.5 443.9 101.7 443.9C102.0 443.9 102.2 443.9 102.4 443.9C102.7 443.9 102.9 443.9 103.1 443.9C103.4 443.9 103.6 443.9 103.9 444.0C104.1 444.0 104.3 444.0 104.6 444.0C104.8 444.0 105.0 443.9 105.3 443.9C105.5 443.9 105.7 444.0 106.0 444.0C106.2 444.0 106.4 444.0 106.7 444.0C106.9 444.0 107.2 444.0 107.4 444.0C107.6 444.0 107.9 444.0 108.1 444.0C108.3 444.0 108.6 444.0 108.8 444.0C109.0 444.0 109.3 444.0 109.5 444.0C109.8 444.0 110.0 444.0 110.2 444.0C110.5 444.0 110.7 444.0 110.9 444.0C111.2 444.0 111.4 443.9 111.6 443.9C111.9 443.9 112.1 443.9 112.4 443.9C112.6 443.9 112.8 443.9 113.1 443.9C113.3 443.9 113.5 443.9 113.8 443.9C114.0 443.9 114.2 444.0 114.5 444.0C114.7 444.0 114.9 444.0 115.2 444.0C115.4 444.0 115.7 444.0 115.9 443.9C116.1 443.9 116.4 443.9 116.6 443.9C116.8 443.9 117.1 443.9 117.3 443.9C117.5 444.0 117.8 444.0 118.0 444.0C118.3 444.0 118.5 444.0 118.7 444.0C119.0 444.0 119.2 444.0 119.4 444.0C119.7 444.0 119.9 444.0 120.1 444.0C120.4 444.0 120.3 444.0 120.9 444.0C121.4 444.0 122.7 444.1 123.7 443.9C124.6 443.7 125.6 443.3 126.5 442.8C127.5 442.2 128.4 441.5 129.4 440.6C130.3 439.8 131.2 439.0 132.2 437.9C133.1 436.8 134.1 435.5 135.0 434.1C136.0 432.6 136.9 431.2 137.9 429.1C138.8 427.0 139.7 424.1 140.7 421.3C141.6 418.5 142.6 415.1 143.5 412.4C144.5 409.7 145.4 407.4 146.4 405.0C147.3 402.5 148.2 400.2 149.2 397.8C150.1 395.4 151.1 393.2 152.0 390.5C153.0 387.8 153.9 384.6 154.9 381.7C155.8 378.7 156.8 375.8 157.7 373.0C158.6 370.2 159.6 367.1 160.5 364.8C161.5 362.6 162.4 362.0 163.4 359.3C164.3 356.6 165.3 351.7 166.2 348.7C167.1 345.7 168.1 344.1 169.0 341.3C170.0 338.4 170.9 334.6 171.9 331.5C172.8 328.4 173.8 325.5 174.7 322.8C175.6 320.1 176.6 317.8 177.5 315.4C178.5 312.9 179.4 310.6 180.4 308.2C181.3 305.7 182.3 303.6 183.2 300.7C184.1 297.8 185.1 294.3 186.0 290.7C187.0 287.1 187.9 283.4 188.9 279.1C189.8 274.8 190.8 268.4 191.7 265.0C192.6 261.5 193.6 260.6 194.5 258.6C195.5 256.5 196.4 254.3 197.4 252.7C198.3 251.0 199.3 250.2 200.2 248.5C201.2 246.8 202.1 244.4 203.0 242.7C204.0 241.0 204.9 239.8 205.9 238.4C206.8 236.9 207.8 235.6 208.7 234.0C209.7 232.3 210.6 230.5 211.5 228.5C212.5 226.6 213.4 224.9 214.4 222.3C215.3 219.7 216.3 215.9 217.2 213.0C218.2 210.1 219.1 207.9 220.0 204.7C221.0 201.5 221.9 197.9 222.9 193.8C223.8 189.7 224.8 184.2 225.7 180.2C226.7 176.3 227.6 172.9 228.5 170.0C229.5 167.1 230.4 165.2 231.4 163.0C232.3 160.8 233.3 159.4 234.2 156.7C235.2 154.1 236.1 150.8 237.0 147.2C238.0 143.5 238.9 138.7 239.9 135.0C240.8 131.2 241.8 127.8 242.7 124.5C243.7 121.3 244.6 117.9 245.6 115.3C246.5 112.7 247.4 110.8 248.4 108.9C249.3 107.1 250.3 105.4 251.2 104.1C252.2 102.8 253.1 102.9 254.1 101.2C255.0 99.5 255.9 96.3 256.9 94.0C257.8 91.7 258.8 89.0 259.7 87.7C260.7 86.4 261.6 86.4 262.6 86.3C263.5 86.2 264.4 88.4 265.4 87.3C266.3 86.2 267.3 82.1 268.2 79.9C269.2 77.7 270.1 74.7 271.1 74.1C272.0 73.4 272.9 75.4 273.9 76.0C274.8 76.7 275.8 78.2 276.7 77.9C277.7 77.6 278.6 75.5 279.6 74.2C280.5 72.9 281.4 71.3 282.4 70.2C283.3 69.1 284.3 68.5 285.2 67.5C286.2 66.5 287.1 64.9 288.1 64.1C289.0 63.3 289.9 62.0 290.9 62.7C291.8 63.4 292.8 66.0 293.7 68.4C294.7 70.7 295.6 77.3 296.6 76.9C297.5 76.5 298.5 67.6 299.4 65.9C300.3 64.3 301.3 66.6 302.2 67.1C303.2 67.5 304.1 68.3 305.1 68.7C306.0 69.2 307.0 69.4 307.9 69.8C308.8 70.1 309.8 70.5 310.7 70.7C311.7 70.9 312.6 70.5 313.6 71.2C314.5 71.9 315.5 74.2 316.4 75.0C317.3 75.8 318.3 76.4 319.2 76.0C320.2 75.6 321.1 72.8 322.1 72.4C323.0 72.0 324.0 72.5 324.9 73.6C325.8 74.6 326.8 76.8 327.7 78.7C328.7 80.7 329.6 84.5 330.6 85.3C331.5 86.1 332.5 83.5 333.4 83.5C334.3 83.5 335.3 84.0 336.2 85.2C337.2 86.4 338.1 88.8 339.1 90.6C340.0 92.5 341.0 95.5 341.9 96.2C342.9 96.8 343.8 93.4 344.7 94.7C345.7 96.0 346.6 101.6 347.6 103.8C348.5 106.0 349.5 106.4 350.4 108.0C351.4 109.7 352.3 110.9 353.2 113.7C354.2 116.5 355.1 123.2 356.1 124.9C357.0 126.6 358.0 123.0 358.9 124.1C359.9 125.1 360.8 130.0 361.7 131.4C362.7 132.8 363.6 131.9 364.6 132.6C365.5 133.2 366.5 134.9 367.4 135.3C368.4 135.8 369.3 133.9 370.2 135.5C371.2 137.0 372.1 141.4 373.1 144.6C374.0 147.7 375.0 151.2 375.9 154.3C376.9 157.5 377.8 160.1 378.7 163.4C379.7 166.8 380.6 171.0 381.6 174.5C382.5 177.9 383.5 180.5 384.4 184.3C385.4 188.1 386.3 194.3 387.2 197.2C388.2 200.1 389.1 200.0 390.1 201.7C391.0 203.3 392.0 205.2 392.9 206.9C393.9 208.6 394.8 209.6 395.8 211.7C396.7 213.9 397.6 216.2 398.6 219.7C399.5 223.2 400.5 229.0 401.4 232.8C402.4 236.7 403.3 239.7 404.3 242.9C405.2 246.2 406.1 249.2 407.1 252.2C408.0 255.3 409.0 258.8 409.9 261.3C410.9 263.9 411.8 265.6 412.8 267.7C413.7 269.9 414.6 271.6 415.6 274.2C416.5 276.7 417.5 280.1 418.4 283.0C419.4 285.8 420.3 288.7 421.3 291.5C422.2 294.4 423.1 297.5 424.1 300.0C425.0 302.4 426.0 304.0 426.9 306.4C427.9 308.8 428.8 312.0 429.8 314.2C430.7 316.4 431.6 317.9 432.6 319.6C433.5 321.2 434.5 322.7 435.4 324.2C436.4 325.7 437.3 327.1 438.3 328.8C439.2 330.5 440.2 332.2 441.1 334.4C442.0 336.5 443.0 338.9 443.9 341.7C444.9 344.5 445.8 348.8 446.8 351.2C447.7 353.6 448.7 354.5 449.6 356.1C450.5 357.7 451.5 359.0 452.4 360.9C453.4 362.7 454.3 365.2 455.3 367.1C456.2 368.9 457.2 369.8 458.1 371.9C459.0 374.0 460.0 377.8 460.9 379.8C461.9 381.8 462.8 382.5 463.8 384.0C464.7 385.6 465.7 387.1 466.6 389.2C467.5 391.2 468.5 394.3 469.4 396.3C470.4 398.4 471.3 400.1 472.3 401.5C473.2 402.9 474.2 403.4 475.1 404.8C476.0 406.2 477.0 408.1 477.9 409.7C478.9 411.3 479.8 413.0 480.8 414.4C481.7 415.7 482.7 416.9 483.6 417.8C484.6 418.6 485.5 418.7 486.4 419.4C487.4 420.0 488.3 421.0 489.3 421.9C490.2 422.8 491.2 423.9 492.1 424.7C493.1 425.4 494.0 425.8 494.9 426.5C495.9 427.1 496.8 427.9 497.8 428.4C498.7 429.0 499.7 429.6 500.6 429.9C501.6 430.3 502.5 430.4 503.4 430.7C504.4 431.0 505.3 431.5 506.3 431.9C507.2 432.2 508.2 432.3 509.1 432.9C510.1 433.6 511.0 434.7 511.9 435.5C512.9 436.3 513.8 437.1 514.8 437.6C515.7 438.0 516.7 437.9 517.6 438.3C518.6 438.7 519.5 439.6 520.4 440.1C521.4 440.6 522.3 441.1 523.3 441.3C524.2 441.4 525.2 441.1 526.1 441.2C527.1 441.2 528.0 441.5 529.0 441.6C529.9 441.7 530.8 441.9 531.8 442.0C532.7 442.0 533.7 441.9 534.6 441.9C535.6 442.0 536.5 442.3 537.5 442.5C538.4 442.7 539.3 442.9 540.3 443.1C541.2 443.3 542.2 443.7 543.1 443.8C544.1 444.0 545.0 444.0 546.0 443.9C546.9 443.9 547.8 443.5 548.8 443.5C549.7 443.5 550.7 443.9 551.6 443.9C552.6 443.9 553.5 443.5 554.5 443.5C555.4 443.4 556.3 443.6 557.3 443.7C558.2 443.8 559.2 444.1 560.1 444.2C561.1 444.2 562.0 444.1 563.0 444.1C563.9 444.1 564.8 444.1 565.8 444.1C566.7 444.1 567.7 444.3 568.6 444.2C569.6 444.2 570.5 443.9 571.5 443.8C572.4 443.8 573.3 443.7 574.3 443.8C575.2 443.8 576.2 444.1 577.1 444.3C578.1 444.5 579.0 444.8 580.0 444.9C580.9 445.1 581.9 444.9 582.8 445.0C583.7 445.1 584.7 445.8 585.6 445.7C586.6 445.6 587.5 444.9 588.5 444.5C589.4 444.0 590.4 442.8 591.3 442.7C592.2 442.7 593.2 443.6 594.1 444.1C595.1 444.5 596.0 445.4 597.0 445.5C597.9 445.7 599.3 445.0 599.8 444.9"/>
<path stroke="#35a0bc" d="M33.0 442.5C33.1 442.5 33.5 442.5 33.7 442.4C33.9 442.3 34.2 442.5 34.4 441.9C34.7 441.3 34.9 440.6 35.1 438.7C35.4 436.8 35.6 435.3 35.8 430.7C36.1 426.1 36.3 420.2 36.5 411.1C36.8 402.0 37.0 388.8 37.3 376.2C37.5 363.6 37.7 346.8 38.0 335.5C38.2 324.2 38.4 312.3 38.7 308.5C38.9 304.8 39.1 306.8 39.4 312.8C39.6 318.7 39.8 332.0 40.1 344.1C40.3 356.2 40.6 373.2 40.8 385.2C41.0 397.3 41.3 408.5 41.5 416.5C41.7 424.6 42.0 429.4 42.2 433.5C42.4 437.5 42.7 439.4 42.9 440.8C43.2 442.3 43.4 442.0 43.6 442.3C43.9 442.5 44.1 442.2 44.3 442.2C44.6 442.2 44.8 442.4 45.0 442.4C45.3 442.4 45.5 442.1 45.8 442.1C46.0 442.1 46.2 442.1 46.5 442.3C46.7 442.4 46.9 442.7 47.2 442.9C47.4 443.1 47.6 443.4 47.9 443.5C48.1 443.5 48.4 443.3 48.6 443.3C48.8 443.4 49.1 443.7 49.3 443.8C49.5 443.9 49.8 443.7 50.0 443.7C50.2 443.8 50.5 443.9 50.7 443.9C50.9 444.0 51.2 444.0 51.4 444.0C51.7 443.9 51.9 443.7 52.1 443.7C52.4 443.7 52.6 443.9 52.8 444.0C53.1 444.0 53.3 444.0 53.5 444.0C53.8 444.0 54.0 443.9 54.3 443.9C54.5 443.9 54.7 443.9 55.0 443.9C55.2 443.9 55.4 444.0 55.7 443.9C55.9 443.9 56.1 443.8 56.4 443.7C56.6 443.7 56.9 443.6 57.1 443.6C57.3 443.5 57.6 443.6 57.8 443.4C58.0 443.2 58.3 442.9 58.5 442.3C58.7 441.8 59.0 441.0 59.2 439.9C59.5 438.8 59.7 437.2 59.9 435.7C60.2 434.2 60.4 432.1 60.6 430.7C60.9 429.3 61.1 427.8 61.3 427.3C61.6 426.8 61.8 427.0 62.0 427.7C62.3 428.4 62.5 430.0 62.8 431.5C63.0 433.0 63.2 435.2 63.5 436.7C63.7 438.2 63.9 439.5 64.2 440.5C64.4 441.5 64.6 442.2 64.9 442.7C65.1 443.2 65.4 443.5 65.6 443.6C65.8 443.8 66.1 443.6 66.3 443.6C66.5 443.6 66.8 443.7 67.0 443.6C67.2 443.6 67.5 443.5 67.7 443.5C68.0 443.5 68.2 443.4 68.4 443.4C68.7 443.4 68.9 443.3 69.1 443.2C69.4 443.1 69.6 443.2 69.8 442.8C70.1 442.5 70.3 441.9 70.6 441.0C70.8 440.2 71.0 439.0 71.3 437.8C71.5 436.7 71.7 435.1 72.0 434.1C72.2 433.1 72.4 432.1 72.7 431.7C72.9 431.4 73.1 431.5 73.4 432.0C73.6 432.5 73.9 433.9 74.1 434.9C74.3 436.0 74.6 437.3 74.8 438.3C75.0 439.4 75.3 440.5 75.5 441.2C75.7 442.0 76.0 442.5 76.2 442.9C76.5 443.3 76.7 443.4 76.9 443.5C77.2 443.7 77.4 443.8 77.6 443.8C77.9 443.9 78.1 444.0 78.3 444.0C78.6 444.0 78.8 444.0 79.1 444.0C79.3 444.0 79.5 444.0 79.8 444.0C80.0 444.0 80.2 444.0 80.5 444.0C80.7 444.0 80.9 444.0 81.2 443.9C81.4 443.9 81.7 443.8 81.9 443.7C82.1 443.7 82.4 443.7 82.6 443.6C82.8 443.5 83.1 443.4 83.3 443.2C83.5 443.0 83.8 442.7 84.0 442.4C84.2 442.1 84.5 441.8 84.7 441.5C85.0 441.2 85.2 440.8 85.4 440.5C85.7 440.1 85.9 439.7 86.1 439.4C86.4 439.2 86.6 439.1 86.8 439.1C87.1 439.2 87.3 439.4 87.6 439.6C87.8 439.9 88.0 440.3 88.3 440.7C88.5 441.1 88.7 441.5 89.0 441.9C89.2 442.2 89.4 442.5 89.7 442.7C89.9 443.0 90.2 443.2 90.4 443.4C90.6 443.5 90.9 443.5 91.1 443.6C91.3 443.6 91.6 443.7 91.8 443.7C92.0 443.8 92.3 443.8 92.5 443.8C92.8 443.9 93.0 444.0 93.2 444.0C93.5 444.0 93.7 444.0 93.9 444.0C94.2 444.0 94.4 443.9 94.6 443.9C94.9 443.8 95.1 443.9 95.3 443.9C95.6 443.9 95.8 444.0 96.1 444.0C96.3 444.0 96.5 443.9 96.8 443.9C97.0 443.9 97.2 443.8 97.5 443.8C97.7 443.7 97.9 443.7 98.2 443.7C98.4 443.7 98.7 443.8 98.9 443.8C99.1 443.8 99.4 443.8 99.6 443.8C99.8 443.8 100.1 443.8 100.3 443.8C100.5 443.9 100.8 444.0 101.0 444.0C101.3 444.0 101.5 443.9 101.7 443.9C102.0 443.8 102.2 443.8 102.4 443.8C102.7 443.8 102.9 443.8 103.1 443.8C103.4 443.8 103.6 443.9 103.9 443.9C104.1 443.9 104.3 443.9 104.6 443.9C104.8 444.0 105.0 444.0 105.3 444.0C105.5 444.0 105.7 444.0 106.0 444.0C106.2 444.0 106.4 444.0 106.7 444.0C106.9 444.0 107.2 444.0 107.4 444.0C107.6 444.0 107.9 444.0 108.1 444.0C108.3 444.0 108.6 444.0 108.8 444.0C109.0 444.0 109.3 444.0 109.5 444.0C109.8 444.0 110.0 444.0 110.2 444.0C110.5 444.0 110.7 443.9 110.9 443.9C111.2 443.9 111.4 444.0 111.6 443.9C111.9 443.9 112.1 443.9 112.4 443.9C112.6 443.9 112.8 443.9 113.1 443.9C113.3 443.9 113.5 444.0 113.8 444.0C114.0 444.0 114.2 444.0 114.5 444.0C114.7 444.0 114.9 444.0 115.2 444.0C115.4 444.0 115.7 444.0 115.9 443.9C116.1 443.9 116.4 443.9 116.6 443.9C116.8 443.9 117.1 444.0 117.3 444.0C117.5 444.0 117.8 443.9 118.0 443.9C118.3 443.9 118.5 443.9 118.7 443.9C119.0 443.9 119.2 443.9 119.4 443.9C119.7 443.9 119.9 443.9 120.1 443.9C120.4 443.9 120.3 444.0 120.9 444.0C121.4 444.0 122.7 444.0 123.7 444.0C124.6 443.9 125.6 443.9 126.5 443.7C127.5 443.6 128.4 443.5 129.4 443.0C130.3 442.6 131.2 441.8 132.2 441.1C133.1 440.4 134.1 439.8 135.0 438.9C136.0 438.1 136.9 437.2 137.9 436.0C138.8 434.9 139.7 434.0 140.7 431.9C141.6 429.8 142.6 426.2 143.5 423.3C144.5 420.4 145.4 416.8 146.4 414.4C147.3 412.0 148.2 410.5 149.2 408.8C150.1 407.1 151.1 405.7 152.0 404.3C153.0 402.9 153.9 401.9 154.9 400.4C155.8 398.9 156.8 397.2 157.7 395.2C158.6 393.1 159.6 390.4 160.5 388.1C161.5 385.9 162.4 383.5 163.4 381.6C164.3 379.7 165.3 378.2 166.2 376.5C167.1 374.7 168.1 372.7 169.0 371.0C170.0 369.3 170.9 367.9 171.9 366.3C172.8 364.7 173.8 363.0 174.7 361.1C175.6 359.2 176.6 357.1 177.5 354.9C178.5 352.6 179.4 349.8 180.4 347.5C181.3 345.2 182.3 342.9 183.2 341.1C184.1 339.3 185.1 337.9 186.0 336.8C187.0 335.7 187.9 335.3 188.9 334.4C189.8 333.6 190.8 333.2 191.7 331.7C192.6 330.2 193.6 327.6 194.5 325.5C195.5 323.4 196.4 321.0 197.4 319.0C198.3 317.1 199.3 315.3 200.2 313.7C201.2 312.2 202.1 311.2 203.0 309.8C204.0 308.5 204.9 307.0 205.9 305.5C206.8 304.0 207.8 302.6 208.7 301.0C209.7 299.3 210.6 297.6 211.5 295.7C212.5 293.8 213.4 291.6 214.4 289.5C215.3 287.3 216.3 284.8 217.2 282.7C218.2 280.5 219.1 278.9 220.0 276.5C221.0 274.1 221.9 271.1 222.9 268.1C223.8 265.1 224.8 261.4 225.7 258.4C226.7 255.5 227.6 253.1 228.5 250.4C229.5 247.8 230.4 244.5 231.4 242.5C232.3 240.4 233.3 240.2 234.2 238.2C235.2 236.2 236.1 233.2 237.0 230.5C238.0 227.7 238.9 224.3 239.9 221.9C240.8 219.5 241.8 218.1 242.7 215.9C243.7 213.7 244.6 211.5 245.6 208.9C246.5 206.2 247.4 202.9 248.4 200.1C249.3 197.3 250.3 194.1 251.2 192.2C252.2 190.3 253.1 190.1 254.1 188.6C255.0 187.1 255.9 184.7 256.9 183.0C257.8 181.3 258.8 180.5 259.7 178.4C260.7 176.4 261.6 174.0 262.6 170.8C263.5 167.7 264.4 162.4 265.4 159.7C266.3 156.9 267.3 156.8 268.2 154.4C269.2 152.0 270.1 147.9 271.1 145.4C272.0 142.9 272.9 141.0 273.9 139.4C274.8 137.7 275.8 136.0 276.7 135.4C277.7 134.8 278.6 136.3 279.6 135.9C280.5 135.5 281.4 135.1 282.4 133.0C283.3 130.8 284.3 125.3 285.2 122.9C286.2 120.5 287.1 119.8 288.1 118.5C289.0 117.1 289.9 115.8 290.9 114.8C291.8 113.8 292.8 113.7 293.7 112.4C294.7 111.2 295.6 109.5 296.6 107.3C297.5 105.0 298.5 101.6 299.4 99.0C300.3 96.5 301.3 92.1 302.2 92.1C303.2 92.0 304.1 97.9 305.1 98.7C306.0 99.4 307.0 98.6 307.9 96.7C308.8 94.8 309.8 89.4 310.7 87.2C311.7 85.1 312.6 84.9 313.6 83.9C314.5 83.0 315.5 83.0 316.4 81.3C317.3 79.7 318.3 76.1 319.2 74.2C320.2 72.3 321.1 70.9 322.1 70.0C323.0 69.0 324.0 68.7 324.9 68.8C325.8 69.0 326.8 71.7 327.7 70.7C328.7 69.7 329.6 64.0 330.6 62.7C331.5 61.4 332.5 62.6 333.4 63.0C334.3 63.4 335.3 65.1 336.2 65.2C337.2 65.2 338.1 63.0 339.1 63.4C340.0 63.7 341.0 66.0 341.9 67.3C342.9 68.5 343.8 71.6 344.7 71.0C345.7 70.3 346.6 63.7 347.6 63.3C348.5 63.0 349.5 67.8 350.4 68.7C351.4 69.5 352.3 67.8 353.2 68.2C354.2 68.7 355.1 71.8 356.1 71.3C357.0 70.8 358.0 65.7 358.9 65.3C359.9 65.0 360.8 67.6 361.7 69.2C362.7 70.9 363.6 73.2 364.6 75.3C365.5 77.5 366.5 79.8 367.4 81.9C368.4 84.0 369.3 86.3 370.2 87.9C371.2 89.6 372.1 90.3 373.1 91.7C374.0 93.1 375.0 94.9 375.9 96.6C376.9 98.2 377.8 99.1 378.7 101.4C379.7 103.7 380.6 106.3 381.6 110.4C382.5 114.4 383.5 121.3 384.4 125.8C385.4 130.3 386.3 134.0 387.2 137.4C388.2 140.8 389.1 143.2 390.1 146.2C391.0 149.2 392.0 152.2 392.9 155.3C393.9 158.4 394.8 161.6 395.8 165.0C396.7 168.5 397.6 172.5 398.6 175.9C399.5 179.4 400.5 183.2 401.4 185.7C402.4 188.2 403.3 189.3 404.3 191.0C405.2 192.7 406.1 193.5 407.1 195.9C408.0 198.3 409.0 201.2 409.9 205.4C410.9 209.5 411.8 216.5 412.8 221.1C413.7 225.6 414.6 229.0 415.6 232.7C416.5 236.5 417.5 240.9 418.4 243.4C419.4 246.0 420.3 246.2 421.3 247.9C422.2 249.7 423.1 250.9 424.1 254.1C425.0 257.4 426.0 263.9 426.9 267.5C427.9 271.1 428.8 273.0 429.8 275.7C430.7 278.5 431.6 280.6 432.6 283.9C433.5 287.1 434.5 292.2 435.4 295.2C436.4 298.2 437.3 299.8 438.3 301.9C439.2 304.0 440.2 305.8 441.1 307.8C442.0 309.7 443.0 311.3 443.9 313.5C444.9 315.7 445.8 318.0 446.8 320.8C447.7 323.7 448.7 327.5 449.6 330.7C450.5 333.8 451.5 337.5 452.4 339.8C453.4 342.1 454.3 342.3 455.3 344.4C456.2 346.5 457.2 349.6 458.1 352.2C459.0 354.8 460.0 358.3 460.9 360.2C461.9 362.0 462.8 361.5 463.8 363.3C464.7 365.0 465.7 368.4 466.6 370.6C467.5 372.8 468.5 374.7 469.4 376.6C470.4 378.4 471.3 379.6 472.3 381.5C473.2 383.3 474.2 385.5 475.1 387.7C476.0 390.0 477.0 392.8 477.9 394.9C478.9 396.9 479.8 398.6 480.8 400.1C481.7 401.6 482.7 402.5 483.6 403.9C484.6 405.2 485.5 406.8 486.4 408.2C487.4 409.6 488.3 411.1 489.3 412.5C490.2 413.8 491.2 414.9 492.1 416.1C493.1 417.3 494.0 418.6 494.9 419.7C495.9 420.8 496.8 421.7 497.8 422.7C498.7 423.7 499.7 424.8 500.6 425.8C501.6 426.9 502.5 428.2 503.4 429.0C504.4 429.8 505.3 430.1 506.3 430.5C507.2 430.9 508.2 431.1 509.1 431.4C510.1 431.7 511.0 432.2 511.9 432.4C512.9 432.7 513.8 432.7 514.8 433.1C515.7 433.5 516.7 434.3 517.6 435.0C518.6 435.7 519.5 436.6 520.4 437.2C521.4 437.7 522.3 438.0 523.3 438.3C524.2 438.5 525.2 438.8 526.1 438.9C527.1 438.9 528.0 438.5 529.0 438.5C529.9 438.5 530.8 438.4 531.8 438.8C532.7 439.1 533.7 440.4 534.6 440.8C535.6 441.2 536.5 441.3 537.5 441.3C538.4 441.3 539.3 440.9 540.3 441.0C541.2 441.2 542.2 442.2 543.1 442.3C544.1 442.5 545.0 442.2 546.0 442.0C546.9 441.8 547.8 441.2 548.8 441.2C549.7 441.2 550.7 441.7 551.6 441.9C552.6 442.2 553.5 442.5 554.5 442.9C555.4 443.2 556.3 443.8 557.3 443.9C558.2 443.9 559.2 443.2 560.1 443.1C561.1 443.0 562.0 443.1 563.0 443.1C563.9 443.1 564.8 443.3 565.8 443.3C566.7 443.4 567.7 443.3 568.6 443.3C569.6 443.3 570.5 443.1 571.5 443.3C572.4 443.4 573.3 443.8 574.3 444.1C575.2 444.4 576.2 444.8 577.1 444.9C578.1 444.9 579.0 444.8 580.0 444.5C580.9 444.3 581.9 443.7 582.8 443.5C583.7 443.4 584.7 443.3 585.6 443.4C586.6 443.5 587.5 444.0 588.5 444.1C589.4 444.1 590.4 444.0 591.3 443.9C592.2 443.8 593.2 443.6 594.1 443.6C595.1 443.6 596.0 443.4 597.0 443.7C597.9 444.0 599.3 445.1 599.8 445.3"/>
<path stroke="#ea8530" d="M33.0 327.8C33.1 332.1 33.5 341.6 33.7 353.9C33.9 366.1 34.2 388.2 34.4 401.3C34.7 414.4 34.9 425.6 35.1 432.3C35.4 439.1 35.6 439.8 35.8 441.7C36.1 443.6 36.3 443.4 36.5 443.8C36.8 444.1 37.0 444.0 37.3 443.9C37.5 443.9 37.7 443.4 38.0 443.3C38.2 443.1 38.4 443.3 38.7 443.2C38.9 443.1 39.1 442.7 39.4 442.7C39.6 442.6 39.8 443.0 40.1 443.1C40.3 443.1 40.6 443.1 40.8 443.2C41.0 443.4 41.3 443.9 41.5 443.9C41.7 444.0 42.0 443.7 42.2 443.6C42.4 443.5 42.7 443.4 42.9 443.3C43.2 443.3 43.4 443.5 43.6 443.3C43.9 443.2 44.1 443.2 44.3 442.7C44.6 442.2 44.8 441.4 45.0 440.4C45.3 439.5 45.5 438.2 45.8 437.0C46.0 435.8 46.2 434.2 46.5 433.2C46.7 432.1 46.9 430.8 47.2 430.5C47.4 430.1 47.6 430.5 47.9 431.1C48.1 431.7 48.4 433.0 48.6 434.1C48.8 435.2 49.1 436.5 49.3 437.7C49.5 438.9 49.8 440.2 50.0 441.1C50.2 441.9 50.5 442.4 50.7 442.8C50.9 443.2 51.2 443.3 51.4 443.4C51.7 443.5 51.9 443.4 52.1 443.5C52.4 443.6 52.6 443.9 52.8 444.0C53.1 444.0 53.3 443.8 53.5 443.7C53.8 443.7 54.0 443.6 54.3 443.5C54.5 443.5 54.7 443.5 55.0 443.5C55.2 443.6 55.4 443.6 55.7 443.6C55.9 443.6 56.1 443.6 56.4 443.5C56.6 443.4 56.9 443.4 57.1 443.1C57.3 442.8 57.6 442.3 57.8 442.0C58.0 441.6 58.3 441.3 58.5 440.9C58.7 440.5 59.0 439.9 59.2 439.5C59.5 439.1 59.7 438.7 59.9 438.3C60.2 437.8 60.4 437.2 60.6 436.7C60.9 436.3 61.1 435.8 61.3 435.4C61.6 435.0 61.8 434.5 62.0 434.3C62.3 434.0 62.5 433.7 62.8 433.7C63.0 433.7 63.2 434.0 63.5 434.2C63.7 434.5 63.9 434.9 64.2 435.3C64.4 435.7 64.6 436.0 64.9 436.5C65.1 437.0 65.4 437.6 65.6 438.2C65.8 438.7 66.1 439.4 66.3 439.8C66.5 440.3 66.8 440.7 67.0 441.1C67.2 441.5 67.5 441.8 67.7 442.1C68.0 442.5 68.2 442.9 68.4 443.1C68.7 443.3 68.9 443.3 69.1 443.4C69.4 443.5 69.6 443.6 69.8 443.6C70.1 443.7 70.3 443.6 70.6 443.5C70.8 443.5 71.0 443.6 71.3 443.6C71.5 443.6 71.7 443.7 72.0 443.8C72.2 443.8 72.4 443.9 72.7 443.9C72.9 443.9 73.1 443.7 73.4 443.7C73.6 443.7 73.9 443.8 74.1 443.9C74.3 443.9 74.6 443.9 74.8 443.9C75.0 443.8 75.3 443.8 75.5 443.7C75.7 443.6 76.0 443.5 76.2 443.3C76.5 443.2 76.7 443.1 76.9 442.9C77.2 442.7 77.4 442.5 77.6 442.2C77.9 442.0 78.1 441.6 78.3 441.3C78.6 440.9 78.8 440.5 79.1 440.1C79.3 439.7 79.5 439.2 79.8 438.9C80.0 438.7 80.2 438.6 80.5 438.4C80.7 438.2 80.9 437.9 81.2 437.9C81.4 438.0 81.7 438.3 81.9 438.5C82.1 438.7 82.4 438.8 82.6 439.1C82.8 439.4 83.1 439.8 83.3 440.2C83.5 440.6 83.8 441.0 84.0 441.3C84.2 441.7 84.5 442.0 84.7 442.2C85.0 442.5 85.2 442.7 85.4 442.9C85.7 443.1 85.9 443.3 86.1 443.4C86.4 443.6 86.6 443.7 86.8 443.7C87.1 443.8 87.3 443.8 87.6 443.8C87.8 443.9 88.0 444.0 88.3 443.9C88.5 443.9 88.7 443.8 89.0 443.8C89.2 443.8 89.4 444.0 89.7 444.0C89.9 444.0 90.2 444.0 90.4 444.0C90.6 444.0 90.9 443.9 91.1 443.9C91.3 443.9 91.6 443.9 91.8 444.0C92.0 444.0 92.3 444.0 92.5 444.0C92.8 444.0 93.0 443.9 93.2 443.9C93.5 443.9 93.7 443.9 93.9 443.9C94.2 443.9 94.4 444.0 94.6 444.0C94.9 444.0 95.1 443.9 95.3 443.9C95.6 443.9 95.8 443.9 96.1 443.9C96.3 444.0 96.5 443.9 96.8 443.9C97.0 443.9 97.2 443.9 97.5 443.9C97.7 443.9 97.9 444.0 98.2 444.0C98.4 444.0 98.7 443.9 98.9 443.9C99.1 443.9 99.4 444.0 99.6 444.0C99.8 444.0 100.1 444.0 100.3 444.0C100.5 444.0 100.8 444.0 101.0 443.9C101.3 443.9 101.5 443.9 101.7 443.9C102.0 443.9 102.2 443.9 102.4 443.9C102.7 444.0 102.9 444.0 103.1 444.0C103.4 444.0 103.6 444.0 103.9 444.0C104.1 443.9 104.3 443.9 104.6 443.9C104.8 443.9 105.0 443.9 105.3 443.9C105.5 443.9 105.7 444.0 106.0 444.0C106.2 444.0 106.4 444.0 106.7 444.0C106.9 444.0 107.2 444.0 107.4 444.0C107.6 444.0 107.9 444.0 108.1 444.0C108.3 443.9 108.6 444.0 108.8 444.0C109.0 444.0 109.3 444.0 109.5 444.0C109.8 444.0 110.0 444.0 110.2 444.0C110.5 444.0 110.7 444.0 110.9 444.0C111.2 444.0 111.4 444.0 111.6 444.0C111.9 444.0 112.1 444.0 112.4 444.0C112.6 444.0 112.8 444.0 113.1 444.0C113.3 444.0 113.5 444.0 113.8 444.0C114.0 444.0 114.2 443.9 114.5 443.9C114.7 443.9 114.9 443.9 115.2 443.9C115.4 443.9 115.7 443.9 115.9 443.9C116.1 443.9 116.4 443.9 116.6 443.9C116.8 443.9 117.1 444.0 117.3 444.0C117.5 444.0 117.8 444.0 118.0 444.0C118.3 443.9 118.5 444.0 118.7 444.0C119.0 444.0 119.2 444.0 119.4 444.0C119.7 444.0 119.9 444.0 120.1 444.0C120.4 444.0 120.3 444.0 120.9 444.0C121.4 444.0 122.7 444.0 123.7 444.0C124.6 444.0 125.6 443.9 126.5 443.8C127.5 443.8 128.4 443.8 129.4 443.7C130.3 443.7 131.2 443.7 132.2 443.6C133.1 443.5 134.1 443.4 135.0 443.1C136.0 442.8 136.9 442.2 137.9 441.8C138.8 441.4 139.7 441.0 140.7 440.6C141.6 440.1 142.6 439.6 143.5 439.0C144.5 438.4 145.4 437.8 146.4 437.2C147.3 436.6 148.2 436.0 149.2 435.3C150.1 434.7 151.1 434.0 152.0 433.3C153.0 432.7 153.9 431.8 154.9 431.5C155.8 431.1 156.8 431.5 157.7 431.4C158.6 431.3 159.6 430.8 160.5 430.7C161.5 430.7 162.4 431.4 163.4 431.2C164.3 430.9 165.3 429.8 166.2 429.2C167.1 428.7 168.1 428.4 169.0 427.9C170.0 427.5 170.9 426.8 171.9 426.4C172.8 425.9 173.8 425.6 174.7 425.1C175.6 424.6 176.6 424.0 177.5 423.5C178.5 423.1 179.4 422.7 180.4 422.4C181.3 422.2 182.3 422.3 183.2 422.2C184.1 422.0 185.1 422.0 186.0 421.5C187.0 421.0 187.9 419.7 188.9 419.3C189.8 418.8 190.8 418.6 191.7 418.7C192.6 418.7 193.6 419.6 194.5 419.7C195.5 419.8 196.4 419.2 197.4 419.2C198.3 419.2 199.3 419.9 200.2 419.8C201.2 419.8 202.1 419.3 203.0 418.9C204.0 418.5 204.9 418.0 205.9 417.6C206.8 417.3 207.8 417.2 208.7 416.8C209.7 416.4 210.6 415.7 211.5 415.2C212.5 414.8 213.4 414.5 214.4 414.1C215.3 413.8 216.3 413.4 217.2 413.0C218.2 412.7 219.1 412.4 220.0 412.0C221.0 411.6 221.9 411.1 222.9 410.6C223.8 410.1 224.8 409.6 225.7 409.1C226.7 408.5 227.6 408.2 228.5 407.5C229.5 406.8 230.4 405.7 231.4 404.8C232.3 403.8 233.3 402.7 234.2 401.9C235.2 401.1 236.1 401.1 237.0 400.1C238.0 399.2 238.9 397.4 239.9 396.2C240.8 395.1 241.8 393.9 242.7 393.0C243.7 392.1 244.6 391.5 245.6 390.7C246.5 389.9 247.4 389.2 248.4 388.1C249.3 387.0 250.3 385.4 251.2 384.1C252.2 382.8 253.1 381.8 254.1 380.3C255.0 378.7 255.9 376.7 256.9 374.8C257.8 373.0 258.8 370.1 259.7 369.1C260.7 368.0 261.6 368.9 262.6 368.4C263.5 368.0 264.4 367.5 265.4 366.3C266.3 365.2 267.3 363.1 268.2 361.5C269.2 359.9 270.1 358.6 271.1 356.8C272.0 355.0 272.9 352.9 273.9 350.7C274.8 348.6 275.8 346.1 276.7 344.1C277.7 342.1 278.6 340.6 279.6 338.7C280.5 336.9 281.4 335.1 282.4 332.9C283.3 330.6 284.3 327.5 285.2 325.2C286.2 323.0 287.1 321.3 288.1 319.2C289.0 317.1 289.9 315.4 290.9 312.7C291.8 309.9 292.8 305.8 293.7 302.6C294.7 299.4 295.6 296.4 296.6 293.4C297.5 290.4 298.5 288.4 299.4 284.6C300.3 280.9 301.3 274.5 302.2 270.8C303.2 267.1 304.1 265.9 305.1 262.4C306.0 258.8 307.0 252.6 307.9 249.4C308.8 246.2 309.8 245.9 310.7 243.1C311.7 240.4 312.6 237.0 313.6 232.8C314.5 228.6 315.5 222.6 316.4 217.9C317.3 213.2 318.3 208.2 319.2 204.8C320.2 201.3 321.1 200.0 322.1 197.1C323.0 194.3 324.0 190.8 324.9 187.6C325.8 184.4 326.8 181.3 327.7 177.9C328.7 174.5 329.6 170.1 330.6 167.2C331.5 164.3 332.5 163.7 333.4 160.5C334.3 157.2 335.3 150.9 336.2 148.0C337.2 145.1 338.1 145.4 339.1 143.0C340.0 140.7 341.0 136.8 341.9 133.7C342.9 130.6 343.8 127.4 344.7 124.5C345.7 121.6 346.6 118.6 347.6 116.1C348.5 113.6 349.5 112.5 350.4 109.5C351.4 106.6 352.3 102.0 353.2 98.4C354.2 94.8 355.1 90.8 356.1 87.9C357.0 84.9 358.0 82.3 358.9 80.6C359.9 78.9 360.8 78.8 361.7 77.7C362.7 76.5 363.6 75.1 364.6 73.8C365.5 72.5 366.5 70.6 367.4 70.0C368.4 69.4 369.3 71.5 370.2 70.2C371.2 68.9 372.1 63.2 373.1 62.4C374.0 61.5 375.0 63.5 375.9 65.1C376.9 66.8 377.8 70.2 378.7 72.2C379.7 74.1 380.6 75.7 381.6 76.8C382.5 78.0 383.5 77.5 384.4 79.0C385.4 80.5 386.3 83.0 387.2 85.8C388.2 88.7 389.1 93.8 390.1 96.1C391.0 98.5 392.0 97.3 392.9 99.8C393.9 102.3 394.8 107.9 395.8 111.2C396.7 114.4 397.6 116.4 398.6 119.4C399.5 122.4 400.5 126.1 401.4 129.4C402.4 132.7 403.3 135.8 404.3 139.1C405.2 142.4 406.1 145.6 407.1 149.4C408.0 153.1 409.0 157.7 409.9 161.8C410.9 166.0 411.8 172.3 412.8 174.0C413.7 175.8 414.6 171.6 415.6 172.4C416.5 173.3 417.5 175.9 418.4 179.0C419.4 182.2 420.3 187.9 421.3 191.3C422.2 194.7 423.1 196.6 424.1 199.2C425.0 201.8 426.0 203.1 426.9 207.0C427.9 210.9 428.8 218.5 429.8 222.5C430.7 226.5 431.6 228.3 432.6 230.9C433.5 233.5 434.5 235.0 435.4 238.2C436.4 241.4 437.3 246.3 438.3 250.1C439.2 254.0 440.2 257.9 441.1 261.2C442.0 264.6 443.0 267.5 443.9 270.2C444.9 272.9 445.8 274.8 446.8 277.3C447.7 279.8 448.7 282.5 449.6 285.0C450.5 287.5 451.5 289.5 452.4 292.3C453.4 295.1 454.3 299.0 455.3 302.0C456.2 305.0 457.2 307.3 458.1 310.4C459.0 313.4 460.0 316.8 460.9 320.0C461.9 323.1 462.8 325.8 463.8 329.3C464.7 332.8 465.7 337.4 466.6 341.0C467.5 344.5 468.5 348.0 469.4 350.6C470.4 353.3 471.3 355.4 472.3 357.0C473.2 358.6 474.2 358.6 475.1 360.2C476.0 361.8 477.0 364.1 477.9 366.6C478.9 369.2 479.8 373.1 480.8 375.5C481.7 377.9 482.7 379.3 483.6 381.2C484.6 383.1 485.5 385.0 486.4 386.8C487.4 388.5 488.3 390.1 489.3 391.9C490.2 393.7 491.2 395.6 492.1 397.7C493.1 399.8 494.0 402.5 494.9 404.4C495.9 406.4 496.8 408.1 497.8 409.3C498.7 410.5 499.7 411.0 500.6 411.8C501.6 412.5 502.5 412.8 503.4 413.7C504.4 414.6 505.3 416.2 506.3 417.3C507.2 418.4 508.2 419.2 509.1 420.2C510.1 421.3 511.0 422.7 511.9 423.6C512.9 424.6 513.8 425.3 514.8 426.1C515.7 426.8 516.7 427.6 517.6 428.2C518.6 428.7 519.5 428.9 520.4 429.3C521.4 429.6 522.3 430.0 523.3 430.2C524.2 430.5 525.2 430.7 526.1 430.8C527.1 431.0 528.0 430.9 529.0 431.2C529.9 431.4 530.8 431.9 531.8 432.5C532.7 433.1 533.7 434.0 534.6 434.7C535.6 435.3 536.5 435.9 537.5 436.3C538.4 436.8 539.3 436.9 540.3 437.4C541.2 438.0 542.2 439.4 543.1 439.6C544.1 439.9 545.0 438.9 546.0 439.0C546.9 439.1 547.8 439.5 548.8 440.0C549.7 440.4 550.7 441.6 551.6 441.8C552.6 442.0 553.5 441.1 554.5 441.1C555.4 441.1 556.3 441.6 557.3 441.8C558.2 442.0 559.2 442.2 560.1 442.2C561.1 442.2 562.0 441.9 563.0 441.7C563.9 441.5 564.8 441.1 565.8 441.0C566.7 441.0 567.7 441.0 568.6 441.3C569.6 441.6 570.5 442.3 571.5 442.6C572.4 442.8 573.3 442.9 574.3 442.8C575.2 442.7 576.2 442.0 577.1 442.0C578.1 442.0 579.0 442.7 580.0 442.9C580.9 443.1 581.9 443.1 582.8 443.4C583.7 443.6 584.7 444.0 585.6 444.1C586.6 444.2 587.5 444.1 588.5 443.9C589.4 443.8 590.4 443.4 591.3 443.4C592.2 443.3 593.2 443.5 594.1 443.6C595.1 443.8 596.0 444.1 597.0 444.3C597.9 444.6 599.3 444.9 599.8 445.0"/>
<path stroke="#86a3d8" d="M33.0 231.6C33.1 238.0 33.5 250.7 33.7 269.8C33.9 289.0 34.2 323.7 34.4 346.5C34.7 369.4 34.9 392.4 35.1 407.0C35.4 421.6 35.6 428.7 35.8 434.3C36.1 439.8 36.3 439.4 36.5 440.1C36.8 440.8 37.0 440.2 37.3 438.5C37.5 436.9 37.7 434.0 38.0 430.2C38.2 426.3 38.4 420.7 38.7 415.3C38.9 409.8 39.1 402.2 39.4 397.5C39.6 392.8 39.8 388.3 40.1 386.8C40.3 385.4 40.6 386.3 40.8 388.8C41.0 391.3 41.3 396.8 41.5 401.8C41.7 406.7 42.0 413.5 42.2 418.5C42.4 423.4 42.7 428.2 42.9 431.6C43.2 434.9 43.4 436.8 43.6 438.6C43.9 440.4 44.1 441.8 44.3 442.6C44.6 443.4 44.8 443.1 45.0 443.3C45.3 443.5 45.5 443.7 45.8 443.8C46.0 443.9 46.2 444.0 46.5 443.9C46.7 443.9 46.9 443.6 47.2 443.6C47.4 443.6 47.6 443.8 47.9 443.9C48.1 443.9 48.4 443.9 48.6 443.9C48.8 443.9 49.1 444.0 49.3 444.0C49.5 444.0 49.8 444.0 50.0 444.0C50.2 443.9 50.5 443.8 50.7 443.7C50.9 443.6 51.2 443.4 51.4 443.3C51.7 443.3 51.9 443.5 52.1 443.4C52.4 443.3 52.6 443.1 52.8 442.8C53.1 442.5 53.3 442.1 53.5 441.6C53.8 441.2 54.0 440.7 54.3 440.3C54.5 439.9 54.7 439.6 55.0 439.4C55.2 439.1 55.4 439.0 55.7 439.0C55.9 439.1 56.1 439.4 56.4 439.6C56.6 439.8 56.9 440.0 57.1 440.3C57.3 440.6 57.6 441.0 57.8 441.4C58.0 441.8 58.3 442.4 58.5 442.7C58.7 443.0 59.0 443.0 59.2 443.1C59.5 443.2 59.7 443.4 59.9 443.6C60.2 443.7 60.4 443.9 60.6 443.9C60.9 444.0 61.1 444.0 61.3 444.0C61.6 444.0 61.8 443.9 62.0 443.9C62.3 443.9 62.5 444.0 62.8 444.0C63.0 444.0 63.2 444.0 63.5 443.9C63.7 443.8 63.9 443.6 64.2 443.5C64.4 443.5 64.6 443.6 64.9 443.6C65.1 443.6 65.4 443.5 65.6 443.5C65.8 443.4 66.1 443.4 66.3 443.3C66.5 443.3 66.8 443.1 67.0 443.2C67.2 443.2 67.5 443.5 67.7 443.6C68.0 443.7 68.2 443.9 68.4 444.0C68.7 444.0 68.9 444.0 69.1 443.9C69.4 443.9 69.6 443.9 69.8 443.8C70.1 443.7 70.3 443.5 70.6 443.4C70.8 443.3 71.0 443.3 71.3 443.3C71.5 443.3 71.7 443.4 72.0 443.5C72.2 443.6 72.4 443.7 72.7 443.8C72.9 443.9 73.1 444.0 73.4 444.0C73.6 444.0 73.9 443.9 74.1 443.9C74.3 443.8 74.6 443.9 74.8 443.9C75.0 443.9 75.3 443.8 75.5 443.8C75.7 443.8 76.0 443.9 76.2 444.0C76.5 444.0 76.7 443.9 76.9 443.9C77.2 443.8 77.4 443.8 77.6 443.8C77.9 443.8 78.1 443.9 78.3 443.9C78.6 443.9 78.8 443.8 79.1 443.7C79.3 443.7 79.5 443.7 79.8 443.7C80.0 443.7 80.2 443.8 80.5 443.8C80.7 443.9 80.9 443.8 81.2 443.8C81.4 443.8 81.7 443.9 81.9 443.9C82.1 443.9 82.4 443.8 82.6 443.8C82.8 443.7 83.1 443.7 83.3 443.7C83.5 443.7 83.8 443.8 84.0 443.9C84.2 443.9 84.5 443.9 84.7 443.9C85.0 443.9 85.2 443.8 85.4 443.8C85.7 443.8 85.9 443.9 86.1 443.9C86.4 444.0 86.6 443.9 86.8 443.9C87.1 443.9 87.3 443.9 87.6 443.9C87.8 443.9 88.0 443.8 88.3 443.8C88.5 443.8 88.7 443.9 89.0 444.0C89.2 444.0 89.4 444.0 89.7 444.0C89.9 444.0 90.2 443.9 90.4 443.9C90.6 443.9 90.9 444.0 91.1 444.0C91.3 444.0 91.6 443.9 91.8 443.9C92.0 443.9 92.3 443.9 92.5 443.9C92.8 444.0 93.0 444.0 93.2 444.0C93.5 444.0 93.7 444.0 93.9 443.9C94.2 443.9 94.4 444.0 94.6 444.0C94.9 443.9 95.1 443.9 95.3 443.9C95.6 443.9 95.8 443.9 96.1 443.9C96.3 443.9 96.5 444.0 96.8 444.0C97.0 444.0 97.2 444.0 97.5 444.0C97.7 444.0 97.9 443.9 98.2 443.9C98.4 443.9 98.7 444.0 98.9 444.0C99.1 444.0 99.4 444.0 99.6 443.9C99.8 443.9 100.1 443.9 100.3 443.9C100.5 443.9 100.8 443.9 101.0 443.9C101.3 443.9 101.5 444.0 101.7 444.0C102.0 444.0 102.2 444.0 102.4 444.0C102.7 444.0 102.9 444.0 103.1 444.0C103.4 444.0 103.6 444.0 103.9 444.0C104.1 444.0 104.3 444.0 104.6 444.0C104.8 444.0 105.0 444.0 105.3 444.0C105.5 444.0 105.7 443.9 106.0 443.9C106.2 443.9 106.4 443.9 106.7 443.9C106.9 443.9 107.2 443.9 107.4 443.9C107.6 443.9 107.9 443.9 108.1 443.9C108.3 443.9 108.6 443.9 108.8 443.9C109.0 444.0 109.3 444.0 109.5 444.0C109.8 444.0 110.0 444.0 110.2 444.0C110.5 444.0 110.7 444.0 110.9 444.0C111.2 444.0 111.4 444.0 111.6 444.0C111.9 444.0 112.1 444.0 112.4 444.0C112.6 444.0 112.8 444.0 113.1 444.0C113.3 444.0 113.5 444.0 113.8 443.9C114.0 443.9 114.2 443.9 114.5 443.9C114.7 443.9 114.9 444.0 115.2 444.0C115.4 444.0 115.7 443.9 115.9 444.0C116.1 444.0 116.4 444.0 116.6 444.0C116.8 444.0 117.1 444.0 117.3 444.0C117.5 444.0 117.8 444.0 118.0 444.0C118.3 444.0 118.5 444.0 118.7 444.0C119.0 444.0 119.2 444.0 119.4 444.0C119.7 444.0 119.9 444.0 120.1 444.0C120.4 444.0 120.3 444.0 120.9 444.0C121.4 444.0 122.7 444.0 123.7 444.0C124.6 444.0 125.6 444.0 126.5 444.0C127.5 443.9 128.4 443.9 129.4 443.9C130.3 443.8 131.2 443.9 132.2 443.8C133.1 443.7 134.1 443.4 135.0 443.2C136.0 443.1 136.9 443.0 137.9 442.8C138.8 442.5 139.7 442.1 140.7 441.8C141.6 441.4 142.6 441.0 143.5 440.7C144.5 440.5 145.4 440.5 146.4 440.4C147.3 440.4 148.2 440.4 149.2 440.4C150.1 440.4 151.1 440.3 152.0 440.2C153.0 440.0 153.9 439.7 154.9 439.3C155.8 438.9 156.8 438.1 157.7 437.8C158.6 437.5 159.6 437.6 160.5 437.5C161.5 437.5 162.4 437.6 163.4 437.5C164.3 437.4 165.3 437.3 166.2 437.2C167.1 437.1 168.1 437.2 169.0 437.0C170.0 436.8 170.9 436.3 171.9 436.0C172.8 435.7 173.8 435.3 174.7 435.2C175.6 435.1 176.6 435.2 177.5 435.2C178.5 435.2 179.4 435.4 180.4 435.3C181.3 435.3 182.3 435.1 183.2 435.0C184.1 434.9 185.1 434.8 186.0 434.7C187.0 434.6 187.9 434.7 188.9 434.5C189.8 434.2 190.8 433.7 191.7 433.1C192.6 432.6 193.6 431.5 194.5 431.3C195.5 431.1 196.4 431.7 197.4 431.9C198.3 432.1 199.3 432.4 200.2 432.4C201.2 432.3 202.1 432.0 203.0 431.7C204.0 431.3 204.9 430.5 205.9 430.2C206.8 430.0 207.8 430.0 208.7 430.1C209.7 430.2 210.6 430.8 211.5 430.9C212.5 431.1 213.4 430.9 214.4 430.9C215.3 430.8 216.3 430.8 217.2 430.8C218.2 430.7 219.1 431.2 220.0 430.6C221.0 430.0 221.9 428.1 222.9 427.3C223.8 426.5 224.8 426.4 225.7 425.8C226.7 425.3 227.6 424.5 228.5 424.0C229.5 423.5 230.4 423.2 231.4 422.9C232.3 422.6 233.3 422.4 234.2 422.1C235.2 421.8 236.1 421.4 237.0 421.1C238.0 420.7 238.9 420.1 239.9 419.8C240.8 419.6 241.8 419.7 242.7 419.6C243.7 419.4 244.6 419.4 245.6 419.1C246.5 418.7 247.4 417.8 248.4 417.5C249.3 417.2 250.3 417.5 251.2 417.1C252.2 416.8 253.1 416.0 254.1 415.4C255.0 414.8 255.9 413.7 256.9 413.3C257.8 412.9 258.8 413.8 259.7 413.2C260.7 412.6 261.6 411.1 262.6 409.6C263.5 408.2 264.4 405.7 265.4 404.5C266.3 403.2 267.3 402.8 268.2 401.9C269.2 400.9 270.1 400.1 271.1 398.8C272.0 397.5 272.9 395.7 273.9 394.2C274.8 392.6 275.8 391.2 276.7 389.5C277.7 387.8 278.6 385.6 279.6 383.8C280.5 381.9 281.4 380.2 282.4 378.3C283.3 376.5 284.3 374.7 285.2 372.6C286.2 370.4 287.1 367.7 288.1 365.6C289.0 363.5 289.9 361.9 290.9 359.9C291.8 358.0 292.8 356.1 293.7 354.0C294.7 351.8 295.6 349.4 296.6 347.1C297.5 344.8 298.5 342.3 299.4 340.0C300.3 337.7 301.3 336.4 302.2 333.3C303.2 330.1 304.1 325.1 305.1 321.2C306.0 317.3 307.0 313.3 307.9 310.0C308.8 306.6 309.8 304.7 310.7 301.2C311.7 297.8 312.6 292.8 313.6 289.4C314.5 285.9 315.5 283.3 316.4 280.5C317.3 277.7 318.3 276.4 319.2 272.5C320.2 268.7 321.1 261.5 322.1 257.6C323.0 253.6 324.0 251.5 324.9 248.9C325.8 246.3 326.8 244.3 327.7 241.8C328.7 239.3 329.6 237.3 330.6 233.9C331.5 230.4 332.5 225.8 333.4 221.1C334.3 216.5 335.3 210.6 336.2 205.8C337.2 201.1 338.1 196.5 339.1 192.4C340.0 188.4 341.0 185.7 341.9 181.6C342.9 177.4 343.8 172.3 344.7 167.7C345.7 163.0 346.6 158.4 347.6 153.6C348.5 148.8 349.5 144.0 350.4 138.8C351.4 133.7 352.3 127.4 353.2 122.6C354.2 117.7 355.1 113.6 356.1 109.8C357.0 106.0 358.0 103.3 358.9 99.7C359.9 96.1 360.8 91.3 361.7 88.2C362.7 85.1 363.6 81.3 364.6 81.0C365.5 80.8 366.5 87.4 367.4 86.6C368.4 85.8 369.3 79.2 370.2 76.0C371.2 72.7 372.1 68.5 373.1 67.0C374.0 65.5 375.0 67.1 375.9 67.1C376.9 67.1 377.8 67.8 378.7 67.1C379.7 66.3 380.6 62.5 381.6 62.5C382.5 62.4 383.5 65.0 384.4 66.9C385.4 68.8 386.3 71.5 387.2 74.0C388.2 76.6 389.1 79.3 390.1 82.3C391.0 85.4 392.0 91.5 392.9 92.4C393.9 93.2 394.8 86.6 395.8 87.4C396.7 88.2 397.6 94.3 398.6 97.3C399.5 100.2 400.5 103.0 401.4 105.1C402.4 107.1 403.3 108.5 404.3 109.5C405.2 110.5 406.1 109.6 407.1 111.1C408.0 112.6 409.0 112.5 409.9 118.4C410.9 124.2 411.8 141.6 412.8 146.3C413.7 151.1 414.6 146.0 415.6 146.9C416.5 147.8 417.5 149.0 418.4 151.8C419.4 154.5 420.3 159.7 421.3 163.4C422.2 167.0 423.1 171.0 424.1 173.8C425.0 176.6 426.0 177.6 426.9 180.3C427.9 183.0 428.8 186.4 429.8 189.9C430.7 193.5 431.6 198.0 432.6 201.6C433.5 205.2 434.5 208.4 435.4 211.3C436.4 214.2 437.3 216.1 438.3 219.2C439.2 222.4 440.2 227.1 441.1 230.3C442.0 233.5 443.0 236.0 443.9 238.7C444.9 241.4 445.8 243.6 446.8 246.4C447.7 249.2 448.7 252.5 449.6 255.6C450.5 258.7 451.5 261.6 452.4 264.9C453.4 268.2 454.3 272.4 455.3 275.4C456.2 278.5 457.2 280.8 458.1 283.5C459.0 286.1 460.0 288.4 460.9 291.2C461.9 294.0 462.8 297.2 463.8 300.4C464.7 303.5 465.7 306.8 466.6 310.1C467.5 313.5 468.5 316.6 469.4 320.5C470.4 324.4 471.3 329.5 472.3 333.6C473.2 337.6 474.2 341.4 475.1 344.8C476.0 348.2 477.0 350.9 477.9 353.8C478.9 356.7 479.8 359.8 480.8 362.2C481.7 364.6 482.7 366.2 483.6 368.3C484.6 370.4 485.5 372.8 486.4 374.8C487.4 376.8 488.3 378.3 489.3 380.2C490.2 382.2 491.2 384.5 492.1 386.5C493.1 388.4 494.0 390.6 494.9 392.0C495.9 393.4 496.8 393.7 497.8 394.8C498.7 396.0 499.7 397.7 500.6 399.0C501.6 400.3 502.5 401.3 503.4 402.4C504.4 403.5 505.3 404.5 506.3 405.8C507.2 407.0 508.2 408.7 509.1 409.8C510.1 411.0 511.0 411.9 511.9 412.7C512.9 413.6 513.8 414.1 514.8 414.9C515.7 415.7 516.7 416.9 517.6 417.7C518.6 418.4 519.5 418.8 520.4 419.4C521.4 420.0 522.3 420.7 523.3 421.4C524.2 422.1 525.2 422.8 526.1 423.6C527.1 424.4 528.0 425.4 529.0 426.2C529.9 426.9 530.8 427.2 531.8 427.9C532.7 428.6 533.7 429.6 534.6 430.2C535.6 430.7 536.5 430.9 537.5 431.2C538.4 431.6 539.3 432.2 540.3 432.5C541.2 432.8 542.2 432.8 543.1 433.0C544.1 433.1 545.0 433.2 546.0 433.5C546.9 433.8 547.8 434.3 548.8 434.8C549.7 435.2 550.7 435.7 551.6 436.1C552.6 436.6 553.5 436.9 554.5 437.2C555.4 437.5 556.3 437.6 557.3 437.7C558.2 437.8 559.2 437.9 560.1 438.0C561.1 438.0 562.0 437.6 563.0 437.8C563.9 438.0 564.8 438.5 565.8 438.9C566.7 439.4 567.7 440.4 568.6 440.6C569.6 440.7 570.5 440.0 571.5 439.9C572.4 439.8 573.3 439.6 574.3 439.8C575.2 440.1 576.2 440.9 577.1 441.3C578.1 441.7 579.0 442.1 580.0 442.1C580.9 442.0 581.9 441.1 582.8 441.1C583.7 441.0 584.7 441.4 585.6 441.5C586.6 441.6 587.5 441.5 588.5 441.5C589.4 441.6 590.4 441.3 591.3 441.6C592.2 441.8 593.2 442.7 594.1 443.0C595.1 443.3 596.0 443.3 597.0 443.3C597.9 443.4 599.3 443.4 599.8 443.4"/>
<path stroke="#d58d90" d="M33.0 320.5C33.1 321.8 33.5 324.0 33.7 328.6C33.9 333.2 34.2 340.4 34.4 348.1C34.7 355.8 34.9 365.9 35.1 374.6C35.4 383.2 35.6 392.7 35.8 400.0C36.1 407.3 36.3 413.5 36.5 418.6C36.8 423.8 37.0 428.3 37.3 431.1C37.5 434.0 37.7 435.0 38.0 435.8C38.2 436.6 38.4 436.9 38.7 435.9C38.9 435.0 39.1 432.1 39.4 430.3C39.6 428.5 39.8 426.3 40.1 425.2C40.3 424.1 40.6 423.2 40.8 423.6C41.0 423.9 41.3 425.8 41.5 427.4C41.7 428.9 42.0 431.1 42.2 433.1C42.4 435.0 42.7 437.6 42.9 439.1C43.2 440.6 43.4 441.2 43.6 442.0C43.9 442.7 44.1 443.5 44.3 443.6C44.6 443.8 44.8 443.2 45.0 443.0C45.3 442.7 45.5 442.1 45.8 442.2C46.0 442.2 46.2 443.0 46.5 443.2C46.7 443.5 46.9 443.6 47.2 443.5C47.4 443.4 47.6 442.9 47.9 442.6C48.1 442.4 48.4 442.2 48.6 441.9C48.8 441.5 49.1 440.8 49.3 440.5C49.5 440.2 49.8 440.2 50.0 440.0C50.2 439.7 50.5 439.1 50.7 439.0C50.9 438.8 51.2 439.0 51.4 439.1C51.7 439.1 51.9 439.1 52.1 439.4C52.4 439.6 52.6 440.1 52.8 440.5C53.1 440.9 53.3 441.5 53.5 441.9C53.8 442.2 54.0 442.5 54.3 442.8C54.5 443.0 54.7 443.3 55.0 443.4C55.2 443.6 55.4 443.6 55.7 443.7C55.9 443.8 56.1 443.9 56.4 443.9C56.6 443.9 56.9 443.5 57.1 443.5C57.3 443.4 57.6 443.5 57.8 443.5C58.0 443.5 58.3 443.5 58.5 443.3C58.7 443.2 59.0 443.0 59.2 442.8C59.5 442.5 59.7 442.3 59.9 441.9C60.2 441.6 60.4 441.2 60.6 440.8C60.9 440.4 61.1 439.9 61.3 439.4C61.6 438.8 61.8 438.3 62.0 437.7C62.3 437.1 62.5 436.4 62.8 435.9C63.0 435.4 63.2 435.1 63.5 434.8C63.7 434.5 63.9 434.2 64.2 434.2C64.4 434.1 64.6 434.1 64.9 434.5C65.1 434.8 65.4 435.5 65.6 436.0C65.8 436.6 66.1 437.1 66.3 437.7C66.5 438.3 66.8 439.0 67.0 439.6C67.2 440.1 67.5 440.5 67.7 440.9C68.0 441.4 68.2 442.0 68.4 442.3C68.7 442.6 68.9 442.7 69.1 442.9C69.4 443.1 69.6 443.3 69.8 443.5C70.1 443.6 70.3 443.7 70.6 443.7C70.8 443.7 71.0 443.6 71.3 443.6C71.5 443.6 71.7 443.8 72.0 443.8C72.2 443.9 72.4 443.9 72.7 443.9C72.9 443.8 73.1 443.7 73.4 443.7C73.6 443.6 73.9 443.7 74.1 443.6C74.3 443.5 74.6 443.3 74.8 443.1C75.0 442.9 75.3 442.6 75.5 442.3C75.7 442.0 76.0 441.6 76.2 441.1C76.5 440.7 76.7 440.1 76.9 439.6C77.2 439.0 77.4 438.4 77.6 437.9C77.9 437.4 78.1 436.9 78.3 436.5C78.6 436.2 78.8 436.0 79.1 435.8C79.3 435.7 79.5 435.5 79.8 435.5C80.0 435.5 80.2 435.5 80.5 435.7C80.7 435.9 80.9 436.3 81.2 436.7C81.4 437.1 81.7 437.7 81.9 438.3C82.1 438.8 82.4 439.4 82.6 439.9C82.8 440.5 83.1 441.0 83.3 441.4C83.5 441.8 83.8 442.1 84.0 442.4C84.2 442.7 84.5 442.8 84.7 443.0C85.0 443.2 85.2 443.5 85.4 443.6C85.7 443.7 85.9 443.7 86.1 443.7C86.4 443.8 86.6 443.9 86.8 443.9C87.1 443.9 87.3 443.8 87.6 443.7C87.8 443.7 88.0 443.7 88.3 443.8C88.5 443.8 88.7 443.9 89.0 444.0C89.2 444.0 89.4 444.0 89.7 444.0C89.9 443.9 90.2 443.8 90.4 443.8C90.6 443.8 90.9 443.8 91.1 443.8C91.3 443.8 91.6 443.7 91.8 443.8C92.0 443.8 92.3 443.9 92.5 443.9C92.8 443.9 93.0 443.9 93.2 443.9C93.5 443.9 93.7 444.0 93.9 444.0C94.2 444.0 94.4 444.0 94.6 444.0C94.9 444.0 95.1 443.9 95.3 443.9C95.6 443.9 95.8 444.0 96.1 444.0C96.3 444.0 96.5 443.9 96.8 443.9C97.0 443.9 97.2 443.9 97.5 443.9C97.7 443.9 97.9 443.9 98.2 443.9C98.4 443.9 98.7 443.8 98.9 443.8C99.1 443.8 99.4 443.9 99.6 443.9C99.8 443.9 100.1 443.9 100.3 443.9C100.5 444.0 100.8 443.9 101.0 443.9C101.3 443.9 101.5 444.0 101.7 444.0C102.0 444.0 102.2 444.0 102.4 444.0C102.7 444.0 102.9 443.9 103.1 443.9C103.4 443.9 103.6 444.0 103.9 444.0C104.1 444.0 104.3 444.0 104.6 444.0C104.8 444.0 105.0 443.9 105.3 443.9C105.5 443.9 105.7 444.0 106.0 444.0C106.2 444.0 106.4 444.0 106.7 444.0C106.9 444.0 107.2 444.0 107.4 444.0C107.6 444.0 107.9 444.0 108.1 444.0C108.3 444.0 108.6 444.0 108.8 444.0C109.0 444.0 109.3 444.0 109.5 444.0C109.8 444.0 110.0 444.0 110.2 444.0C110.5 444.0 110.7 444.0 110.9 444.0C111.2 443.9 111.4 443.9 111.6 443.9C111.9 443.9 112.1 444.0 112.4 444.0C112.6 444.0 112.8 443.9 113.1 443.9C113.3 444.0 113.5 444.0 113.8 444.0C114.0 444.0 114.2 443.9 114.5 443.9C114.7 443.9 114.9 443.9 115.2 443.9C115.4 443.9 115.7 443.9 115.9 443.9C116.1 443.9 116.4 443.9 116.6 443.9C116.8 443.9 117.1 443.9 117.3 443.9C117.5 444.0 117.8 444.0 118.0 444.0C118.3 444.0 118.5 444.0 118.7 444.0C119.0 444.0 119.2 444.0 119.4 444.0C119.7 444.0 119.9 444.0 120.1 444.0C120.4 444.0 120.3 444.0 120.9 444.0C121.4 444.0 122.7 444.0 123.7 444.0C124.6 444.0 125.6 443.9 126.5 443.9C127.5 443.8 128.4 443.8 129.4 443.8C130.3 443.7 131.2 443.5 132.2 443.4C133.1 443.4 134.1 443.6 135.0 443.6C136.0 443.6 136.9 443.6 137.9 443.6C138.8 443.7 139.7 443.9 140.7 444.0C141.6 444.2 142.6 444.5 143.5 444.6C144.5 444.7 145.4 444.8 146.4 444.7C147.3 444.6 148.2 444.4 149.2 444.2C150.1 444.0 151.1 443.7 152.0 443.7C153.0 443.6 153.9 444.0 154.9 444.1C155.8 444.1 156.8 444.2 157.7 444.0C158.6 443.8 159.6 443.0 160.5 442.8C161.5 442.6 162.4 442.8 163.4 442.8C164.3 442.8 165.3 442.8 166.2 442.8C167.1 442.8 168.1 443.1 169.0 442.9C170.0 442.8 170.9 442.0 171.9 441.8C172.8 441.5 173.8 441.6 174.7 441.6C175.6 441.7 176.6 442.0 177.5 442.1C178.5 442.1 179.4 441.9 180.4 441.7C181.3 441.5 182.3 440.9 183.2 440.9C184.1 440.9 185.1 441.5 186.0 441.7C187.0 441.9 187.9 441.8 188.9 441.8C189.8 441.9 190.8 441.7 191.7 441.7C192.6 441.7 193.6 441.9 194.5 441.9C195.5 441.9 196.4 441.7 197.4 441.7C198.3 441.7 199.3 442.0 200.2 442.0C201.2 442.0 202.1 442.0 203.0 441.9C204.0 441.9 204.9 441.9 205.9 441.9C206.8 441.8 207.8 441.8 208.7 441.8C209.7 441.7 210.6 441.7 211.5 441.6C212.5 441.6 213.4 441.5 214.4 441.4C215.3 441.4 216.3 441.3 217.2 441.2C218.2 441.2 219.1 441.0 220.0 441.0C221.0 441.0 221.9 441.3 222.9 441.1C223.8 440.9 224.8 440.1 225.7 439.7C226.7 439.4 227.6 438.9 228.5 438.8C229.5 438.7 230.4 438.9 231.4 439.0C232.3 439.2 233.3 439.6 234.2 439.5C235.2 439.5 236.1 439.1 237.0 438.8C238.0 438.6 238.9 438.3 239.9 438.1C240.8 438.0 241.8 438.0 242.7 438.0C243.7 438.0 244.6 438.2 245.6 438.2C246.5 438.2 247.4 438.1 248.4 438.1C249.3 438.2 250.3 438.5 251.2 438.5C252.2 438.4 253.1 438.2 254.1 437.8C255.0 437.4 255.9 436.5 256.9 436.0C257.8 435.6 258.8 435.5 259.7 435.2C260.7 434.9 261.6 434.4 262.6 434.1C263.5 433.8 264.4 433.9 265.4 433.5C266.3 433.1 267.3 432.2 268.2 431.7C269.2 431.2 270.1 430.8 271.1 430.6C272.0 430.5 272.9 431.2 273.9 430.8C274.8 430.4 275.8 428.8 276.7 427.9C277.7 427.1 278.6 426.5 279.6 425.9C280.5 425.3 281.4 425.4 282.4 424.3C283.3 423.2 284.3 421.1 285.2 419.3C286.2 417.6 287.1 415.5 288.1 413.7C289.0 411.9 289.9 410.4 290.9 408.6C291.8 406.8 292.8 404.7 293.7 402.9C294.7 401.1 295.6 399.9 296.6 397.8C297.5 395.8 298.5 392.9 299.4 390.7C300.3 388.5 301.3 387.4 302.2 384.9C303.2 382.3 304.1 378.5 305.1 375.5C306.0 372.5 307.0 369.5 307.9 366.7C308.8 364.0 309.8 361.7 310.7 359.2C311.7 356.7 312.6 354.6 313.6 351.9C314.5 349.2 315.5 345.9 316.4 342.8C317.3 339.7 318.3 336.9 319.2 333.1C320.2 329.4 321.1 324.2 322.1 320.5C323.0 316.8 324.0 314.0 324.9 310.9C325.8 307.8 326.8 305.7 327.7 301.9C328.7 298.1 329.6 292.1 330.6 288.0C331.5 283.9 332.5 280.6 333.4 277.2C334.3 273.9 335.3 271.8 336.2 268.1C337.2 264.3 338.1 259.8 339.1 254.8C340.0 249.7 341.0 243.2 341.9 237.8C342.9 232.4 343.8 226.0 344.7 222.2C345.7 218.4 346.6 218.7 347.6 214.8C348.5 210.9 349.5 204.3 350.4 198.8C351.4 193.3 352.3 187.9 353.2 181.9C354.2 175.8 355.1 168.3 356.1 162.6C357.0 156.8 358.0 152.6 358.9 147.5C359.9 142.5 360.8 137.6 361.7 132.3C362.7 127.0 363.6 121.1 364.6 115.7C365.5 110.4 366.5 105.0 367.4 100.2C368.4 95.5 369.3 91.8 370.2 87.1C371.2 82.4 372.1 73.3 373.1 72.2C374.0 71.1 375.0 81.1 375.9 80.5C376.9 79.9 377.8 71.2 378.7 68.6C379.7 66.0 380.6 65.9 381.6 65.0C382.5 64.0 383.5 62.0 384.4 62.7C385.4 63.5 386.3 67.7 387.2 69.4C388.2 71.1 389.1 72.4 390.1 72.9C391.0 73.4 392.0 70.9 392.9 72.2C393.9 73.6 394.8 80.0 395.8 80.9C396.7 81.7 397.6 74.9 398.6 77.1C399.5 79.3 400.5 91.4 401.4 94.3C402.4 97.3 403.3 94.4 404.3 94.8C405.2 95.2 406.1 95.1 407.1 96.5C408.0 97.8 409.0 100.8 409.9 103.1C410.9 105.4 411.8 107.1 412.8 110.2C413.7 113.3 414.6 118.6 415.6 121.9C416.5 125.3 417.5 127.5 418.4 130.3C419.4 133.1 420.3 134.7 421.3 138.7C422.2 142.7 423.1 151.0 424.1 154.3C425.0 157.7 426.0 157.4 426.9 158.8C427.9 160.1 428.8 160.0 429.8 162.5C430.7 165.0 431.6 169.8 432.6 173.9C433.5 177.9 434.5 183.4 435.4 186.7C436.4 190.0 437.3 191.6 438.3 193.6C439.2 195.5 440.2 195.9 441.1 198.5C442.0 201.0 443.0 204.9 443.9 208.9C444.9 212.9 445.8 218.1 446.8 222.6C447.7 227.1 448.7 231.8 449.6 235.8C450.5 239.8 451.5 242.7 452.4 246.6C453.4 250.6 454.3 256.4 455.3 259.6C456.2 262.9 457.2 263.5 458.1 266.1C459.0 268.7 460.0 271.8 460.9 275.1C461.9 278.5 462.8 283.2 463.8 286.2C464.7 289.3 465.7 290.2 466.6 293.3C467.5 296.3 468.5 300.8 469.4 304.6C470.4 308.5 471.3 312.4 472.3 316.3C473.2 320.3 474.2 324.5 475.1 328.3C476.0 332.1 477.0 335.7 477.9 338.9C478.9 342.1 479.8 344.6 480.8 347.3C481.7 350.0 482.7 352.6 483.6 355.1C484.6 357.7 485.5 360.4 486.4 362.8C487.4 365.2 488.3 367.6 489.3 369.4C490.2 371.2 491.2 371.9 492.1 373.4C493.1 374.9 494.0 376.4 494.9 378.4C495.9 380.5 496.8 383.5 497.8 385.7C498.7 387.9 499.7 390.0 500.6 391.8C501.6 393.6 502.5 395.2 503.4 396.6C504.4 398.0 505.3 398.9 506.3 400.2C507.2 401.6 508.2 403.4 509.1 404.8C510.1 406.1 511.0 407.5 511.9 408.4C512.9 409.3 513.8 409.6 514.8 410.3C515.7 411.0 516.7 411.6 517.6 412.6C518.6 413.7 519.5 415.5 520.4 416.4C521.4 417.4 522.3 417.4 523.3 418.2C524.2 418.9 525.2 419.9 526.1 420.8C527.1 421.7 528.0 422.7 529.0 423.6C529.9 424.5 530.8 425.5 531.8 426.3C532.7 427.1 533.7 427.8 534.6 428.4C535.6 429.0 536.5 429.6 537.5 429.9C538.4 430.1 539.3 429.7 540.3 430.0C541.2 430.3 542.2 431.4 543.1 431.9C544.1 432.4 545.0 432.6 546.0 433.0C546.9 433.4 547.8 433.7 548.8 434.1C549.7 434.4 550.7 435.0 551.6 435.3C552.6 435.5 553.5 435.2 554.5 435.3C555.4 435.5 556.3 435.8 557.3 436.1C558.2 436.5 559.2 437.5 560.1 437.6C561.1 437.7 562.0 436.8 563.0 436.8C563.9 436.8 564.8 437.4 565.8 437.5C566.7 437.6 567.7 437.2 568.6 437.4C569.6 437.7 570.5 438.5 571.5 439.0C572.4 439.6 573.3 440.6 574.3 440.9C575.2 441.1 576.2 440.5 577.1 440.4C578.1 440.4 579.0 440.3 580.0 440.6C580.9 441.0 581.9 442.2 582.8 442.4C583.7 442.6 584.7 441.8 585.6 441.7C586.6 441.6 587.5 441.7 588.5 441.7C589.4 441.8 590.4 442.1 591.3 442.1C592.2 442.1 593.2 441.7 594.1 442.0C595.1 442.2 596.0 443.1 597.0 443.5C597.9 443.9 599.3 444.0 599.8 444.2"/>
</g>
<g font-family="'Liberation Serif', 'Times New Roman', serif" font-size="11.5px" fill="#111">
<text transform="translate(22.1 450.5) scale(0.92 1)" text-anchor="end" font-size="13.4px">0</text>
<text transform="translate(22.1 373.5) scale(0.92 1)" text-anchor="end" font-size="13.4px">0.2</text>
<text transform="translate(22.1 296.6) scale(0.92 1)" text-anchor="end" font-size="13.4px">0.4</text>
<text transform="translate(22.1 219.6) scale(0.92 1)" text-anchor="end" font-size="13.4px">0.6</text>
<text transform="translate(22.1 142.7) scale(0.92 1)" text-anchor="end" font-size="13.4px">0.8</text>
<text transform="translate(22.1 65.7) scale(0.92 1)" text-anchor="end" font-size="13.4px">1</text>
<text x="33.0" y="463.6" text-anchor="middle">200</text>
<text x="89.7" y="463.6" text-anchor="middle">220</text>
<text x="146.4" y="463.6" text-anchor="middle">240</text>
<text x="203.0" y="463.6" text-anchor="middle">260</text>
<text x="259.7" y="463.6" text-anchor="middle">280</text>
<text x="316.4" y="463.6" text-anchor="middle">300</text>
<text x="373.1" y="463.6" text-anchor="middle">320</text>
<text x="429.8" y="463.6" text-anchor="middle">340</text>
<text x="486.4" y="463.6" text-anchor="middle">360</text>
<text x="543.1" y="463.6" text-anchor="middle">380</text>
<text x="599.8" y="463.6" text-anchor="middle">400</text>
<text x="656.5" y="463.6" text-anchor="middle">420</text>
<text x="713.2" y="463.6" text-anchor="middle">440</text>
<text x="10.6" y="16" font-size="12.6px">Intensity, a.u.</text>
<text x="365.3" y="482.9" font-size="12.3px">Wavelengh, nm</text>
<text x="631.2" y="73.8" font-size="11.9px">1.0×10<tspan font-size="7.3px" dy="-4">−6</tspan><tspan dy="4" dx="1.2"> M</tspan></text>
<text x="632.0" y="100.9" font-size="11.9px">1.0×10<tspan font-size="7.3px" dy="-4">−5</tspan><tspan dy="4" dx="1.2"> M</tspan></text>
<text x="632.0" y="127.6" font-size="11.9px">1.5×10<tspan font-size="7.3px" dy="-4">−5</tspan><tspan dy="4" dx="1.2"> M</tspan></text>
<text x="632.0" y="154.0" font-size="11.9px">2.0×10<tspan font-size="7.3px" dy="-4">−5</tspan><tspan dy="4" dx="1.2"> M</tspan></text>
<text x="632.0" y="179.0" font-size="11.9px">2.5×10<tspan font-size="7.3px" dy="-4">−5</tspan><tspan dy="4" dx="1.2"> M</tspan></text>
<text x="632.0" y="208.3" font-size="11.9px">5.0×10<tspan font-size="7.3px" dy="-4">−5</tspan><tspan dy="4" dx="1.2"> M</tspan></text>
<text x="632.0" y="234.1" font-size="11.9px">7.5×10<tspan font-size="7.3px" dy="-4">−5</tspan><tspan dy="4" dx="1.2"> M</tspan></text>
<text x="632.0" y="261.7" font-size="11.9px">1.0×10<tspan font-size="7.3px" dy="-4">−4</tspan><tspan dy="4" dx="1.2"> M</tspan></text>
</g>
<g fill="none" stroke-width="2.2" stroke-linecap="round">
<path stroke="#3d74b8" d="M602.6 71.1H622.8"/>
<path stroke="#b9403f" d="M602.6 97.5H622.8"/>
<path stroke="#8fb24c" d="M602.6 124.3H622.8"/>
<path stroke="#6f5199" d="M602.6 150.6H622.8"/>
<path stroke="#35a0bc" d="M602.6 177.6H622.8"/>
<path stroke="#ea8530" d="M602.6 204.6H622.8"/>
<path stroke="#86a3d8" d="M602.6 231.1H622.8"/>
<path stroke="#d58d90" d="M602.6 257.8H622.8"/>
</g>
</svg>
</body></html>
